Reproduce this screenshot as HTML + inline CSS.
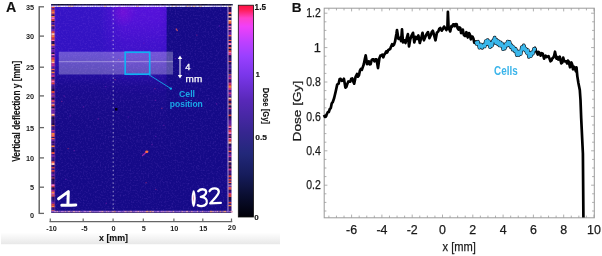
<!DOCTYPE html>
<html><head><meta charset="utf-8"><style>
html,body{margin:0;padding:0;background:#fff;width:602px;height:256px;overflow:hidden}
svg{display:block;will-change:transform}
</style></head><body>
<svg width="602" height="256" viewBox="0 0 602 256">
<defs>
<linearGradient id="cb" x1="0" y1="0" x2="0" y2="1">
 <stop offset="0" stop-color="#ff1040"/>
 <stop offset="0.025" stop-color="#ff2060"/>
 <stop offset="0.06" stop-color="#ff40c8"/>
 <stop offset="0.10" stop-color="#f040f8"/>
 <stop offset="0.17" stop-color="#c040ff"/>
 <stop offset="0.24" stop-color="#9a40ff"/>
 <stop offset="0.33" stop-color="#7a36ea"/>
 <stop offset="0.45" stop-color="#5828b8"/>
 <stop offset="0.60" stop-color="#362690"/>
 <stop offset="0.70" stop-color="#22287a"/>
 <stop offset="0.80" stop-color="#161c5c"/>
 <stop offset="0.90" stop-color="#0a0e30"/>
 <stop offset="1" stop-color="#000008"/>
</linearGradient>
<filter id="grain" x="0" y="0" width="1" height="1" filterUnits="objectBoundingBox">
 <feTurbulence type="fractalNoise" baseFrequency="0.6" numOctaves="2" seed="3" result="n"/>
 <feColorMatrix in="n" type="matrix" values="0 0 0 0 0.45  0 0 0 0 0.2  0 0 0 0 0.95  0 0 0 1.6 -0.75"/>
</filter>
<clipPath id="hclip"><rect x="51.3" y="4.2" width="180" height="208.4"/></clipPath>
<linearGradient id="lay1" x1="0" y1="0" x2="0" y2="1">
 <stop offset="0" stop-color="#3614c6"/>
 <stop offset="0.29" stop-color="#3212c2"/>
 <stop offset="0.48" stop-color="#200c98" stop-opacity="0.55"/>
 <stop offset="0.7" stop-color="#1e0c8c" stop-opacity="0.2"/>
 <stop offset="1" stop-color="#160a86" stop-opacity="0"/>
</linearGradient>
<linearGradient id="lay2h" x1="0" y1="0" x2="1" y2="0">
 <stop offset="0" stop-color="#5a12dc" stop-opacity="0"/>
 <stop offset="0.2" stop-color="#5a12dc" stop-opacity="0.55"/>
 <stop offset="0.35" stop-color="#5a12dc" stop-opacity="0.95"/>
 <stop offset="0.9" stop-color="#5612da" stop-opacity="1"/>
 <stop offset="1" stop-color="#5010d4" stop-opacity="0.95"/>
</linearGradient>
<linearGradient id="m2g" x1="0" y1="0" x2="0" y2="1">
 <stop offset="0" stop-color="#fff" stop-opacity="1"/>
 <stop offset="0.18" stop-color="#fff" stop-opacity="0.85"/>
 <stop offset="0.42" stop-color="#fff" stop-opacity="0.45"/>
 <stop offset="0.75" stop-color="#fff" stop-opacity="0.12"/>
 <stop offset="1" stop-color="#fff" stop-opacity="0"/>
</linearGradient>
<mask id="m2" maskUnits="userSpaceOnUse" x="0" y="0" width="602" height="256"><rect x="100" y="4.2" width="67" height="90.8" fill="url(#m2g)"/></mask>
<radialGradient id="hot" cx="0.5" cy="0.5" r="0.5">
 <stop offset="0" stop-color="#7a10d8" stop-opacity="0.7"/>
 <stop offset="1" stop-color="#7a10d8" stop-opacity="0"/>
</radialGradient>
<linearGradient id="gband" x1="0" y1="0" x2="0" y2="1">
 <stop offset="0" stop-color="#ffffff"/>
 <stop offset="1" stop-color="#e8e8e8"/>
</linearGradient>
</defs>
<rect x="1" y="232.5" width="279" height="11.7" fill="url(#gband)"/>
<rect x="51.3" y="4.2" width="180.0" height="208.4" fill="#150a88"/>
<g clip-path="url(#hclip)">
<rect x="51.3" y="4.2" width="115.2" height="170.8" fill="url(#lay1)"/>
<rect x="100" y="4.2" width="66.5" height="90.8" fill="url(#lay2h)" mask="url(#m2)"/>
<ellipse cx="123" cy="12" rx="13" ry="15" fill="url(#hot)"/>
<rect x="51.3" y="4.2" width="180.0" height="208.4" filter="url(#grain)" opacity="0.24"/>
</g>
<rect x="111.7" y="39.8" width="1.2" height="1.2" fill="#8020b0" opacity="0.6"/>
<rect x="69.5" y="115.4" width="1.2" height="1.2" fill="#6a1cc0" opacity="0.6"/>
<rect x="155.2" y="188.9" width="1.2" height="1.2" fill="#a02890" opacity="0.6"/>
<rect x="63.6" y="95.4" width="1.2" height="1.2" fill="#8020b0" opacity="0.6"/>
<rect x="97.7" y="118.4" width="1.2" height="1.2" fill="#8020b0" opacity="0.6"/>
<rect x="196.2" y="34.5" width="1.2" height="1.2" fill="#a02890" opacity="0.6"/>
<rect x="163.2" y="124.7" width="1.2" height="1.2" fill="#8020b0" opacity="0.6"/>
<rect x="154.3" y="88.1" width="1.2" height="1.2" fill="#a02890" opacity="0.6"/>
<rect x="65.1" y="178.8" width="1.2" height="1.2" fill="#6a1cc0" opacity="0.6"/>
<rect x="127.7" y="116.4" width="1.2" height="1.2" fill="#6a1cc0" opacity="0.6"/>
<rect x="151.4" y="144.1" width="1.2" height="1.2" fill="#8020b0" opacity="0.6"/>
<rect x="155.0" y="135.7" width="1.2" height="1.2" fill="#6a1cc0" opacity="0.6"/>
<rect x="73.7" y="150.1" width="1.2" height="1.2" fill="#8020b0" opacity="0.6"/>
<rect x="161.3" y="107.7" width="1.2" height="1.2" fill="#c03070" opacity="0.6"/>
<rect x="187.9" y="101.6" width="1.2" height="1.2" fill="#c03070" opacity="0.6"/>
<rect x="118.0" y="59.0" width="1.2" height="1.2" fill="#a02890" opacity="0.6"/>
<rect x="174.7" y="58.1" width="1.2" height="1.2" fill="#6a1cc0" opacity="0.6"/>
<rect x="145.5" y="182.1" width="1.2" height="1.2" fill="#c03070" opacity="0.6"/>
<rect x="105.7" y="202.7" width="1.2" height="1.2" fill="#8020b0" opacity="0.6"/>
<rect x="143.3" y="42.6" width="1.2" height="1.2" fill="#6a1cc0" opacity="0.6"/>
<rect x="82.8" y="106.2" width="1.2" height="1.2" fill="#8020b0" opacity="0.6"/>
<rect x="218.9" y="25.4" width="1.2" height="1.2" fill="#6a1cc0" opacity="0.6"/>
<rect x="114.4" y="79.0" width="1.2" height="1.2" fill="#c03070" opacity="0.6"/>
<rect x="154.7" y="99.8" width="1.2" height="1.2" fill="#8020b0" opacity="0.6"/>
<rect x="216.0" y="103.3" width="1.2" height="1.2" fill="#8020b0" opacity="0.6"/>
<rect x="67.5" y="148.0" width="1.2" height="1.2" fill="#c03070" opacity="0.6"/>
<rect x="105.1" y="86.0" width="1.2" height="1.2" fill="#6a1cc0" opacity="0.6"/>
<rect x="61.1" y="100.9" width="1.2" height="1.2" fill="#a02890" opacity="0.6"/>
<path d="M142.5 155.5 L146.5 152" stroke="#c030b0" stroke-width="1.3" opacity="0.8" stroke-linecap="round"/>
<ellipse cx="146.8" cy="151.8" rx="1.6" ry="1.2" fill="#ff7040"/>
<path d="M176 28.5 l1.5 2.5" stroke="#e06060" stroke-width="1.3" opacity="0.8"/>
<rect x="115" y="108" width="2.5" height="2.5" fill="#000010"/>
<rect x="51.30" y="6.70" width="3.30" height="1.69" fill="#e04030"/>
<rect x="51.30" y="8.39" width="3.30" height="1.18" fill="#401070"/>
<rect x="51.30" y="9.58" width="3.30" height="1.86" fill="#e04030"/>
<rect x="51.30" y="11.44" width="3.30" height="2.09" fill="#ff8030"/>
<rect x="51.30" y="13.53" width="3.30" height="1.12" fill="#e04030"/>
<rect x="51.30" y="14.65" width="3.30" height="1.26" fill="#1a0840"/>
<rect x="51.30" y="15.91" width="3.30" height="1.46" fill="#ff8030"/>
<rect x="51.30" y="17.37" width="3.30" height="1.82" fill="#ff70b0"/>
<rect x="51.30" y="19.19" width="3.30" height="1.79" fill="#e04030"/>
<rect x="51.30" y="20.97" width="3.30" height="1.20" fill="#1a0840"/>
<rect x="51.30" y="22.17" width="3.30" height="1.10" fill="#7020a0"/>
<rect x="51.30" y="23.27" width="3.30" height="0.92" fill="#301880"/>
<rect x="51.30" y="24.18" width="3.30" height="1.14" fill="#401070"/>
<rect x="51.30" y="25.32" width="3.30" height="1.09" fill="#ff8030"/>
<rect x="51.30" y="26.41" width="3.30" height="1.69" fill="#401070"/>
<rect x="51.30" y="28.10" width="3.30" height="1.06" fill="#301880"/>
<rect x="51.30" y="29.17" width="3.30" height="2.14" fill="#7020a0"/>
<rect x="51.30" y="31.30" width="3.30" height="1.86" fill="#e04030"/>
<rect x="51.30" y="33.16" width="3.30" height="2.03" fill="#ffc0a0"/>
<rect x="51.30" y="35.20" width="3.30" height="1.78" fill="#ff8030"/>
<rect x="51.30" y="36.98" width="3.30" height="1.42" fill="#e04030"/>
<rect x="51.30" y="38.40" width="3.30" height="1.53" fill="#e04030"/>
<rect x="51.30" y="39.92" width="3.30" height="1.15" fill="#ff70b0"/>
<rect x="51.30" y="41.07" width="3.30" height="1.47" fill="#1a0840"/>
<rect x="51.30" y="42.55" width="3.30" height="1.68" fill="#1a0840"/>
<rect x="51.30" y="44.23" width="3.30" height="1.64" fill="#ff8030"/>
<rect x="51.30" y="45.86" width="3.30" height="2.13" fill="#7020a0"/>
<rect x="51.30" y="48.00" width="3.30" height="0.99" fill="#2a0c60"/>
<rect x="51.30" y="48.99" width="3.30" height="1.39" fill="#7020a0"/>
<rect x="51.30" y="50.38" width="3.30" height="2.14" fill="#7020a0"/>
<rect x="51.30" y="52.52" width="3.30" height="1.52" fill="#1a0840"/>
<rect x="51.30" y="54.04" width="3.30" height="1.53" fill="#ff70b0"/>
<rect x="51.30" y="55.57" width="3.30" height="1.52" fill="#401070"/>
<rect x="51.30" y="57.09" width="3.30" height="1.09" fill="#d03080"/>
<rect x="51.30" y="58.18" width="3.30" height="1.86" fill="#e04030"/>
<rect x="51.30" y="60.04" width="3.30" height="1.80" fill="#ff8030"/>
<rect x="51.30" y="61.84" width="3.30" height="1.17" fill="#ffc0a0"/>
<rect x="51.30" y="63.01" width="3.30" height="1.37" fill="#d03080"/>
<rect x="51.30" y="64.38" width="3.30" height="2.09" fill="#d03080"/>
<rect x="51.30" y="66.47" width="3.30" height="1.29" fill="#7020a0"/>
<rect x="51.30" y="67.76" width="3.30" height="1.02" fill="#301880"/>
<rect x="51.30" y="68.78" width="3.30" height="1.57" fill="#ff6040"/>
<rect x="51.30" y="70.35" width="3.30" height="1.36" fill="#2a0c60"/>
<rect x="51.30" y="71.71" width="3.30" height="1.60" fill="#ff8030"/>
<rect x="51.30" y="73.32" width="3.30" height="1.73" fill="#7020a0"/>
<rect x="51.30" y="75.04" width="3.30" height="1.92" fill="#d03080"/>
<rect x="51.30" y="76.97" width="3.30" height="1.15" fill="#2a0c60"/>
<rect x="51.30" y="78.12" width="3.30" height="1.42" fill="#301880"/>
<rect x="51.30" y="79.54" width="3.30" height="1.16" fill="#e04030"/>
<rect x="51.30" y="80.70" width="3.30" height="1.85" fill="#ff70b0"/>
<rect x="51.30" y="82.55" width="3.30" height="1.93" fill="#e04030"/>
<rect x="51.30" y="84.48" width="3.30" height="1.15" fill="#7020a0"/>
<rect x="51.30" y="85.63" width="3.30" height="1.35" fill="#301880"/>
<rect x="51.30" y="86.98" width="3.30" height="1.84" fill="#401070"/>
<rect x="51.30" y="88.82" width="3.30" height="2.17" fill="#1a0840"/>
<rect x="51.30" y="90.99" width="3.30" height="1.03" fill="#e04030"/>
<rect x="51.30" y="92.02" width="3.30" height="1.34" fill="#e04030"/>
<rect x="51.30" y="93.36" width="3.30" height="2.18" fill="#7020a0"/>
<rect x="51.30" y="95.54" width="3.30" height="0.90" fill="#ff6040"/>
<rect x="51.30" y="96.44" width="3.30" height="1.35" fill="#7020a0"/>
<rect x="51.30" y="97.79" width="3.30" height="1.99" fill="#1a0840"/>
<rect x="51.30" y="99.77" width="3.30" height="1.41" fill="#d03080"/>
<rect x="51.30" y="101.18" width="3.30" height="1.16" fill="#ff6040"/>
<rect x="51.30" y="102.34" width="3.30" height="1.46" fill="#7020a0"/>
<rect x="51.30" y="103.80" width="3.30" height="1.01" fill="#ffc0a0"/>
<rect x="51.30" y="104.81" width="3.30" height="1.84" fill="#e04030"/>
<rect x="51.30" y="106.65" width="3.30" height="1.87" fill="#1a0840"/>
<rect x="51.30" y="108.52" width="3.30" height="1.11" fill="#ff70b0"/>
<rect x="51.30" y="109.63" width="3.30" height="0.94" fill="#7020a0"/>
<rect x="51.30" y="110.56" width="3.30" height="1.50" fill="#7020a0"/>
<rect x="51.30" y="112.07" width="3.30" height="1.70" fill="#7020a0"/>
<rect x="51.30" y="113.76" width="3.30" height="1.52" fill="#ffc0a0"/>
<rect x="51.30" y="115.28" width="3.30" height="1.10" fill="#ff8030"/>
<rect x="51.30" y="116.38" width="3.30" height="0.93" fill="#301880"/>
<rect x="51.30" y="117.31" width="3.30" height="1.84" fill="#1a0840"/>
<rect x="51.30" y="119.15" width="3.30" height="1.87" fill="#2a0c60"/>
<rect x="51.30" y="121.03" width="3.30" height="2.18" fill="#2a0c60"/>
<rect x="51.30" y="123.21" width="3.30" height="2.04" fill="#1a0840"/>
<rect x="51.30" y="125.25" width="3.30" height="1.18" fill="#ff8030"/>
<rect x="51.30" y="126.42" width="3.30" height="1.89" fill="#401070"/>
<rect x="51.30" y="128.32" width="3.30" height="1.61" fill="#301880"/>
<rect x="51.30" y="129.92" width="3.30" height="0.98" fill="#d03080"/>
<rect x="51.30" y="130.90" width="3.30" height="2.07" fill="#7020a0"/>
<rect x="51.30" y="132.97" width="3.30" height="1.96" fill="#ff8030"/>
<rect x="51.30" y="134.93" width="3.30" height="1.98" fill="#ff6040"/>
<rect x="51.30" y="136.90" width="3.30" height="1.07" fill="#2a0c60"/>
<rect x="51.30" y="137.97" width="3.30" height="1.56" fill="#ff6040"/>
<rect x="51.30" y="139.54" width="3.30" height="1.91" fill="#7020a0"/>
<rect x="51.30" y="141.45" width="3.30" height="1.91" fill="#2a0c60"/>
<rect x="51.30" y="143.36" width="3.30" height="1.08" fill="#7020a0"/>
<rect x="51.30" y="144.44" width="3.30" height="1.06" fill="#1a0840"/>
<rect x="51.30" y="145.50" width="3.30" height="1.79" fill="#ff8030"/>
<rect x="51.30" y="147.28" width="3.30" height="1.53" fill="#301880"/>
<rect x="51.30" y="148.81" width="3.30" height="2.05" fill="#1a0840"/>
<rect x="51.30" y="150.86" width="3.30" height="1.15" fill="#1a0840"/>
<rect x="51.30" y="152.01" width="3.30" height="1.03" fill="#e04030"/>
<rect x="51.30" y="153.04" width="3.30" height="0.94" fill="#ff6040"/>
<rect x="51.30" y="153.97" width="3.30" height="0.98" fill="#401070"/>
<rect x="51.30" y="154.95" width="3.30" height="2.17" fill="#7020a0"/>
<rect x="51.30" y="157.12" width="3.30" height="1.16" fill="#401070"/>
<rect x="51.30" y="158.28" width="3.30" height="1.56" fill="#301880"/>
<rect x="51.30" y="159.84" width="3.30" height="1.56" fill="#2a0c60"/>
<rect x="51.30" y="161.40" width="3.30" height="1.58" fill="#ff6040"/>
<rect x="51.30" y="162.98" width="3.30" height="2.11" fill="#ffc0a0"/>
<rect x="51.30" y="165.09" width="3.30" height="2.06" fill="#2a0c60"/>
<rect x="51.30" y="167.15" width="3.30" height="1.48" fill="#e04030"/>
<rect x="51.30" y="168.63" width="3.30" height="1.41" fill="#401070"/>
<rect x="51.30" y="170.04" width="3.30" height="1.77" fill="#e04030"/>
<rect x="51.30" y="171.81" width="3.30" height="1.18" fill="#401070"/>
<rect x="51.30" y="172.99" width="3.30" height="1.06" fill="#301880"/>
<rect x="51.30" y="174.05" width="3.30" height="2.12" fill="#7020a0"/>
<rect x="51.30" y="176.17" width="3.30" height="1.38" fill="#2a0c60"/>
<rect x="51.30" y="177.54" width="3.30" height="1.08" fill="#e04030"/>
<rect x="51.30" y="178.62" width="3.30" height="1.87" fill="#1a0840"/>
<rect x="51.30" y="180.49" width="3.30" height="2.05" fill="#2a0c60"/>
<rect x="51.30" y="182.54" width="3.30" height="1.77" fill="#2a0c60"/>
<rect x="51.30" y="184.31" width="3.30" height="1.82" fill="#ff70b0"/>
<rect x="51.30" y="186.13" width="3.30" height="1.42" fill="#e04030"/>
<rect x="51.30" y="187.55" width="3.30" height="1.36" fill="#1a0840"/>
<rect x="51.30" y="188.92" width="3.30" height="1.38" fill="#401070"/>
<rect x="51.30" y="190.29" width="3.30" height="1.50" fill="#d03080"/>
<rect x="51.30" y="191.79" width="3.30" height="1.40" fill="#ff8030"/>
<rect x="51.30" y="193.19" width="3.30" height="1.28" fill="#ff70b0"/>
<rect x="51.30" y="194.47" width="3.30" height="1.05" fill="#ff6040"/>
<rect x="51.30" y="195.52" width="3.30" height="1.20" fill="#ff6040"/>
<rect x="51.30" y="196.72" width="3.30" height="1.01" fill="#2a0c60"/>
<rect x="51.30" y="197.73" width="3.30" height="2.08" fill="#2a0c60"/>
<rect x="51.30" y="199.80" width="3.30" height="1.88" fill="#301880"/>
<rect x="51.30" y="201.69" width="3.30" height="2.00" fill="#7020a0"/>
<rect x="51.30" y="203.69" width="3.30" height="2.13" fill="#e04030"/>
<rect x="51.30" y="205.82" width="3.30" height="1.60" fill="#ff8030"/>
<rect x="51.30" y="207.42" width="3.30" height="1.54" fill="#401070"/>
<rect x="51.30" y="208.96" width="3.30" height="1.26" fill="#301880"/>
<rect x="51.30" y="210.22" width="3.30" height="1.14" fill="#ff6040"/>
<rect x="228.40" y="6.70" width="2.90" height="1.25" fill="#1a0840"/>
<rect x="228.40" y="7.95" width="2.90" height="1.02" fill="#2a0c60"/>
<rect x="228.40" y="8.96" width="2.90" height="1.69" fill="#2a0c60"/>
<rect x="228.40" y="10.66" width="2.90" height="1.24" fill="#1a0840"/>
<rect x="228.40" y="11.90" width="2.90" height="0.92" fill="#ff70b0"/>
<rect x="228.40" y="12.81" width="2.90" height="1.44" fill="#ff6040"/>
<rect x="228.40" y="14.26" width="2.90" height="1.71" fill="#1a0840"/>
<rect x="228.40" y="15.97" width="2.90" height="1.82" fill="#ffc0a0"/>
<rect x="228.40" y="17.79" width="2.90" height="2.16" fill="#2a0c60"/>
<rect x="228.40" y="19.95" width="2.90" height="1.14" fill="#ffc0a0"/>
<rect x="228.40" y="21.08" width="2.90" height="1.72" fill="#ff8030"/>
<rect x="228.40" y="22.80" width="2.90" height="1.17" fill="#e04030"/>
<rect x="228.40" y="23.97" width="2.90" height="1.77" fill="#2a0c60"/>
<rect x="228.40" y="25.74" width="2.90" height="1.94" fill="#ff70b0"/>
<rect x="228.40" y="27.69" width="2.90" height="0.95" fill="#1a0840"/>
<rect x="228.40" y="28.63" width="2.90" height="1.56" fill="#ff70b0"/>
<rect x="228.40" y="30.19" width="2.90" height="1.57" fill="#2a0c60"/>
<rect x="228.40" y="31.76" width="2.90" height="1.48" fill="#7020a0"/>
<rect x="228.40" y="33.24" width="2.90" height="1.75" fill="#7020a0"/>
<rect x="228.40" y="34.99" width="2.90" height="1.61" fill="#ff6040"/>
<rect x="228.40" y="36.60" width="2.90" height="2.16" fill="#401070"/>
<rect x="228.40" y="38.76" width="2.90" height="1.18" fill="#2a0c60"/>
<rect x="228.40" y="39.94" width="2.90" height="1.16" fill="#ff6040"/>
<rect x="228.40" y="41.10" width="2.90" height="1.85" fill="#2a0c60"/>
<rect x="228.40" y="42.94" width="2.90" height="2.19" fill="#ff70b0"/>
<rect x="228.40" y="45.13" width="2.90" height="1.99" fill="#1a0840"/>
<rect x="228.40" y="47.12" width="2.90" height="1.71" fill="#ff6040"/>
<rect x="228.40" y="48.83" width="2.90" height="1.46" fill="#1a0840"/>
<rect x="228.40" y="50.29" width="2.90" height="1.76" fill="#e04030"/>
<rect x="228.40" y="52.06" width="2.90" height="1.56" fill="#ff70b0"/>
<rect x="228.40" y="53.61" width="2.90" height="1.68" fill="#d03080"/>
<rect x="228.40" y="55.29" width="2.90" height="0.96" fill="#2a0c60"/>
<rect x="228.40" y="56.25" width="2.90" height="1.25" fill="#1a0840"/>
<rect x="228.40" y="57.50" width="2.90" height="1.37" fill="#401070"/>
<rect x="228.40" y="58.87" width="2.90" height="2.18" fill="#401070"/>
<rect x="228.40" y="61.05" width="2.90" height="0.94" fill="#ff6040"/>
<rect x="228.40" y="62.00" width="2.90" height="1.18" fill="#2a0c60"/>
<rect x="228.40" y="63.18" width="2.90" height="1.34" fill="#1a0840"/>
<rect x="228.40" y="64.52" width="2.90" height="1.26" fill="#7020a0"/>
<rect x="228.40" y="65.78" width="2.90" height="1.22" fill="#301880"/>
<rect x="228.40" y="67.00" width="2.90" height="1.02" fill="#301880"/>
<rect x="228.40" y="68.02" width="2.90" height="1.09" fill="#7020a0"/>
<rect x="228.40" y="69.11" width="2.90" height="1.41" fill="#401070"/>
<rect x="228.40" y="70.52" width="2.90" height="1.72" fill="#1a0840"/>
<rect x="228.40" y="72.24" width="2.90" height="2.14" fill="#301880"/>
<rect x="228.40" y="74.38" width="2.90" height="1.10" fill="#ff6040"/>
<rect x="228.40" y="75.49" width="2.90" height="1.92" fill="#7020a0"/>
<rect x="228.40" y="77.41" width="2.90" height="1.89" fill="#d03080"/>
<rect x="228.40" y="79.30" width="2.90" height="1.54" fill="#401070"/>
<rect x="228.40" y="80.84" width="2.90" height="1.70" fill="#2a0c60"/>
<rect x="228.40" y="82.55" width="2.90" height="1.97" fill="#d03080"/>
<rect x="228.40" y="84.52" width="2.90" height="1.57" fill="#e04030"/>
<rect x="228.40" y="86.08" width="2.90" height="1.81" fill="#ff8030"/>
<rect x="228.40" y="87.90" width="2.90" height="2.08" fill="#d03080"/>
<rect x="228.40" y="89.98" width="2.90" height="1.64" fill="#301880"/>
<rect x="228.40" y="91.62" width="2.90" height="0.92" fill="#7020a0"/>
<rect x="228.40" y="92.54" width="2.90" height="1.94" fill="#d03080"/>
<rect x="228.40" y="94.48" width="2.90" height="2.14" fill="#7020a0"/>
<rect x="228.40" y="96.62" width="2.90" height="1.01" fill="#1a0840"/>
<rect x="228.40" y="97.63" width="2.90" height="1.73" fill="#ffc0a0"/>
<rect x="228.40" y="99.36" width="2.90" height="1.39" fill="#e04030"/>
<rect x="228.40" y="100.75" width="2.90" height="0.97" fill="#1a0840"/>
<rect x="228.40" y="101.71" width="2.90" height="1.59" fill="#2a0c60"/>
<rect x="228.40" y="103.30" width="2.90" height="1.24" fill="#e04030"/>
<rect x="228.40" y="104.55" width="2.90" height="0.99" fill="#ffc0a0"/>
<rect x="228.40" y="105.54" width="2.90" height="2.07" fill="#1a0840"/>
<rect x="228.40" y="107.61" width="2.90" height="1.58" fill="#d03080"/>
<rect x="228.40" y="109.19" width="2.90" height="1.52" fill="#301880"/>
<rect x="228.40" y="110.71" width="2.90" height="2.00" fill="#2a0c60"/>
<rect x="228.40" y="112.71" width="2.90" height="1.88" fill="#2a0c60"/>
<rect x="228.40" y="114.59" width="2.90" height="1.74" fill="#e04030"/>
<rect x="228.40" y="116.33" width="2.90" height="2.00" fill="#1a0840"/>
<rect x="228.40" y="118.33" width="2.90" height="2.08" fill="#401070"/>
<rect x="228.40" y="120.42" width="2.90" height="0.96" fill="#7020a0"/>
<rect x="228.40" y="121.38" width="2.90" height="1.16" fill="#7020a0"/>
<rect x="228.40" y="122.54" width="2.90" height="1.33" fill="#7020a0"/>
<rect x="228.40" y="123.87" width="2.90" height="1.80" fill="#7020a0"/>
<rect x="228.40" y="125.67" width="2.90" height="1.07" fill="#e04030"/>
<rect x="228.40" y="126.74" width="2.90" height="1.53" fill="#ff70b0"/>
<rect x="228.40" y="128.27" width="2.90" height="1.03" fill="#2a0c60"/>
<rect x="228.40" y="129.30" width="2.90" height="1.54" fill="#d03080"/>
<rect x="228.40" y="130.84" width="2.90" height="1.27" fill="#e04030"/>
<rect x="228.40" y="132.11" width="2.90" height="1.90" fill="#ff70b0"/>
<rect x="228.40" y="134.01" width="2.90" height="1.61" fill="#401070"/>
<rect x="228.40" y="135.62" width="2.90" height="1.01" fill="#e04030"/>
<rect x="228.40" y="136.63" width="2.90" height="1.28" fill="#1a0840"/>
<rect x="228.40" y="137.91" width="2.90" height="1.56" fill="#ff70b0"/>
<rect x="228.40" y="139.47" width="2.90" height="2.19" fill="#e04030"/>
<rect x="228.40" y="141.66" width="2.90" height="2.09" fill="#ffc0a0"/>
<rect x="228.40" y="143.75" width="2.90" height="1.00" fill="#1a0840"/>
<rect x="228.40" y="144.75" width="2.90" height="1.87" fill="#2a0c60"/>
<rect x="228.40" y="146.62" width="2.90" height="1.37" fill="#7020a0"/>
<rect x="228.40" y="147.99" width="2.90" height="1.72" fill="#401070"/>
<rect x="228.40" y="149.71" width="2.90" height="1.05" fill="#401070"/>
<rect x="228.40" y="150.75" width="2.90" height="1.55" fill="#ff6040"/>
<rect x="228.40" y="152.30" width="2.90" height="1.41" fill="#2a0c60"/>
<rect x="228.40" y="153.71" width="2.90" height="2.13" fill="#7020a0"/>
<rect x="228.40" y="155.85" width="2.90" height="1.43" fill="#d03080"/>
<rect x="228.40" y="157.28" width="2.90" height="1.44" fill="#401070"/>
<rect x="228.40" y="158.72" width="2.90" height="1.06" fill="#401070"/>
<rect x="228.40" y="159.77" width="2.90" height="1.32" fill="#401070"/>
<rect x="228.40" y="161.10" width="2.90" height="1.42" fill="#ffc0a0"/>
<rect x="228.40" y="162.51" width="2.90" height="1.15" fill="#1a0840"/>
<rect x="228.40" y="163.67" width="2.90" height="1.86" fill="#2a0c60"/>
<rect x="228.40" y="165.53" width="2.90" height="0.98" fill="#e04030"/>
<rect x="228.40" y="166.51" width="2.90" height="2.03" fill="#1a0840"/>
<rect x="228.40" y="168.55" width="2.90" height="2.10" fill="#d03080"/>
<rect x="228.40" y="170.65" width="2.90" height="2.01" fill="#401070"/>
<rect x="228.40" y="172.66" width="2.90" height="0.97" fill="#7020a0"/>
<rect x="228.40" y="173.63" width="2.90" height="1.73" fill="#2a0c60"/>
<rect x="228.40" y="175.35" width="2.90" height="2.16" fill="#e04030"/>
<rect x="228.40" y="177.51" width="2.90" height="1.31" fill="#301880"/>
<rect x="228.40" y="178.82" width="2.90" height="1.92" fill="#e04030"/>
<rect x="228.40" y="180.75" width="2.90" height="0.94" fill="#301880"/>
<rect x="228.40" y="181.68" width="2.90" height="1.42" fill="#ff6040"/>
<rect x="228.40" y="183.10" width="2.90" height="1.62" fill="#2a0c60"/>
<rect x="228.40" y="184.72" width="2.90" height="1.00" fill="#ffc0a0"/>
<rect x="228.40" y="185.73" width="2.90" height="1.43" fill="#7020a0"/>
<rect x="228.40" y="187.16" width="2.90" height="1.08" fill="#ff6040"/>
<rect x="228.40" y="188.24" width="2.90" height="1.53" fill="#ff6040"/>
<rect x="228.40" y="189.77" width="2.90" height="1.62" fill="#2a0c60"/>
<rect x="228.40" y="191.39" width="2.90" height="1.44" fill="#401070"/>
<rect x="228.40" y="192.83" width="2.90" height="1.23" fill="#d03080"/>
<rect x="228.40" y="194.06" width="2.90" height="1.75" fill="#e04030"/>
<rect x="228.40" y="195.81" width="2.90" height="1.21" fill="#e04030"/>
<rect x="228.40" y="197.02" width="2.90" height="1.77" fill="#1a0840"/>
<rect x="228.40" y="198.79" width="2.90" height="1.74" fill="#1a0840"/>
<rect x="228.40" y="200.53" width="2.90" height="1.55" fill="#301880"/>
<rect x="228.40" y="202.08" width="2.90" height="1.62" fill="#e04030"/>
<rect x="228.40" y="203.69" width="2.90" height="1.33" fill="#301880"/>
<rect x="228.40" y="205.02" width="2.90" height="1.46" fill="#ff8030"/>
<rect x="228.40" y="206.48" width="2.90" height="1.22" fill="#2a0c60"/>
<rect x="228.40" y="207.70" width="2.90" height="1.62" fill="#401070"/>
<rect x="228.40" y="209.32" width="2.90" height="1.38" fill="#301880"/>
<rect x="228.40" y="210.70" width="2.90" height="1.16" fill="#1a0840"/>
<line x1="51.699999999999996" y1="6.2" x2="51.699999999999996" y2="212.6" stroke="#c0a0f0" stroke-width="0.7" opacity="0.6"/>
<line x1="54.8" y1="6.2" x2="54.8" y2="212.6" stroke="#c060c0" stroke-width="0.6" opacity="0.5"/>
<line x1="228.0" y1="6.2" x2="228.0" y2="212.6" stroke="#f8d8f8" stroke-width="0.9" opacity="0.75"/>
<rect x="51.30" y="4.00" width="2.74" height="1.60" fill="#1a1a40"/>
<rect x="54.04" y="4.00" width="1.83" height="1.60" fill="#181838"/>
<rect x="55.87" y="4.00" width="1.42" height="1.60" fill="#1a1a40"/>
<rect x="57.29" y="4.00" width="1.68" height="1.60" fill="#101030"/>
<rect x="58.97" y="4.00" width="2.00" height="1.60" fill="#181838"/>
<rect x="60.96" y="4.00" width="2.94" height="1.60" fill="#101030"/>
<rect x="63.90" y="4.00" width="2.37" height="1.60" fill="#181838"/>
<rect x="66.27" y="4.00" width="2.26" height="1.60" fill="#101030"/>
<rect x="68.53" y="4.00" width="1.19" height="1.60" fill="#101030"/>
<rect x="69.72" y="4.00" width="1.77" height="1.60" fill="#181838"/>
<rect x="71.48" y="4.00" width="1.89" height="1.60" fill="#1a1a40"/>
<rect x="73.38" y="4.00" width="2.70" height="1.60" fill="#101030"/>
<rect x="76.07" y="4.00" width="1.25" height="1.60" fill="#1a1a40"/>
<rect x="77.33" y="4.00" width="2.42" height="1.60" fill="#1a1a40"/>
<rect x="79.75" y="4.00" width="2.94" height="1.60" fill="#1a1a40"/>
<rect x="82.68" y="4.00" width="1.00" height="1.60" fill="#1a1a40"/>
<rect x="83.68" y="4.00" width="2.86" height="1.60" fill="#181838"/>
<rect x="86.54" y="4.00" width="2.71" height="1.60" fill="#1a1a40"/>
<rect x="89.26" y="4.00" width="1.50" height="1.60" fill="#101030"/>
<rect x="90.75" y="4.00" width="1.45" height="1.60" fill="#101030"/>
<rect x="92.20" y="4.00" width="2.04" height="1.60" fill="#181838"/>
<rect x="94.24" y="4.00" width="1.22" height="1.60" fill="#181838"/>
<rect x="95.46" y="4.00" width="2.40" height="1.60" fill="#1a1a40"/>
<rect x="97.86" y="4.00" width="1.17" height="1.60" fill="#101030"/>
<rect x="99.03" y="4.00" width="1.00" height="1.60" fill="#101030"/>
<rect x="100.04" y="4.00" width="1.47" height="1.60" fill="#101030"/>
<rect x="101.50" y="4.00" width="2.29" height="1.60" fill="#1a1a40"/>
<rect x="103.79" y="4.00" width="2.92" height="1.60" fill="#181838"/>
<rect x="106.72" y="4.00" width="1.50" height="1.60" fill="#181838"/>
<rect x="108.22" y="4.00" width="1.87" height="1.60" fill="#101030"/>
<rect x="110.10" y="4.00" width="1.20" height="1.60" fill="#1a1a40"/>
<rect x="111.30" y="4.00" width="2.05" height="1.60" fill="#181838"/>
<rect x="113.34" y="4.00" width="1.38" height="1.60" fill="#1a1a40"/>
<rect x="114.73" y="4.00" width="1.45" height="1.60" fill="#181838"/>
<rect x="116.17" y="4.00" width="1.00" height="1.60" fill="#181838"/>
<rect x="117.18" y="4.00" width="1.60" height="1.60" fill="#1a1a40"/>
<rect x="118.78" y="4.00" width="1.56" height="1.60" fill="#1a1a40"/>
<rect x="120.34" y="4.00" width="2.29" height="1.60" fill="#101030"/>
<rect x="122.63" y="4.00" width="1.95" height="1.60" fill="#101030"/>
<rect x="124.58" y="4.00" width="2.09" height="1.60" fill="#101030"/>
<rect x="126.67" y="4.00" width="2.92" height="1.60" fill="#181838"/>
<rect x="129.59" y="4.00" width="2.30" height="1.60" fill="#101030"/>
<rect x="131.89" y="4.00" width="1.04" height="1.60" fill="#1a1a40"/>
<rect x="132.94" y="4.00" width="2.77" height="1.60" fill="#181838"/>
<rect x="135.70" y="4.00" width="1.84" height="1.60" fill="#1a1a40"/>
<rect x="137.54" y="4.00" width="1.46" height="1.60" fill="#1a1a40"/>
<rect x="139.00" y="4.00" width="2.85" height="1.60" fill="#101030"/>
<rect x="141.85" y="4.00" width="1.99" height="1.60" fill="#181838"/>
<rect x="143.84" y="4.00" width="1.68" height="1.60" fill="#1a1a40"/>
<rect x="145.51" y="4.00" width="1.72" height="1.60" fill="#1a1a40"/>
<rect x="147.24" y="4.00" width="1.40" height="1.60" fill="#1a1a40"/>
<rect x="148.63" y="4.00" width="2.48" height="1.60" fill="#181838"/>
<rect x="151.11" y="4.00" width="1.13" height="1.60" fill="#1a1a40"/>
<rect x="152.25" y="4.00" width="2.94" height="1.60" fill="#1a1a40"/>
<rect x="155.19" y="4.00" width="2.53" height="1.60" fill="#101030"/>
<rect x="157.72" y="4.00" width="1.46" height="1.60" fill="#101030"/>
<rect x="159.18" y="4.00" width="1.53" height="1.60" fill="#1a1a40"/>
<rect x="160.71" y="4.00" width="1.22" height="1.60" fill="#181838"/>
<rect x="161.93" y="4.00" width="1.99" height="1.60" fill="#101030"/>
<rect x="163.92" y="4.00" width="2.79" height="1.60" fill="#1a1a40"/>
<rect x="166.71" y="4.00" width="1.83" height="1.60" fill="#181838"/>
<rect x="168.55" y="4.00" width="1.11" height="1.60" fill="#181838"/>
<rect x="169.66" y="4.00" width="1.29" height="1.60" fill="#1a1a40"/>
<rect x="170.95" y="4.00" width="1.11" height="1.60" fill="#101030"/>
<rect x="172.06" y="4.00" width="2.95" height="1.60" fill="#101030"/>
<rect x="175.01" y="4.00" width="1.83" height="1.60" fill="#181838"/>
<rect x="176.84" y="4.00" width="1.12" height="1.60" fill="#1a1a40"/>
<rect x="177.96" y="4.00" width="1.90" height="1.60" fill="#181838"/>
<rect x="179.86" y="4.00" width="2.77" height="1.60" fill="#181838"/>
<rect x="182.63" y="4.00" width="1.23" height="1.60" fill="#101030"/>
<rect x="183.85" y="4.00" width="2.86" height="1.60" fill="#1a1a40"/>
<rect x="186.72" y="4.00" width="1.38" height="1.60" fill="#181838"/>
<rect x="188.10" y="4.00" width="2.87" height="1.60" fill="#181838"/>
<rect x="190.97" y="4.00" width="1.94" height="1.60" fill="#1a1a40"/>
<rect x="192.90" y="4.00" width="2.33" height="1.60" fill="#1a1a40"/>
<rect x="195.23" y="4.00" width="2.68" height="1.60" fill="#1a1a40"/>
<rect x="197.91" y="4.00" width="1.88" height="1.60" fill="#101030"/>
<rect x="199.80" y="4.00" width="1.01" height="1.60" fill="#1a1a40"/>
<rect x="200.80" y="4.00" width="1.16" height="1.60" fill="#1a1a40"/>
<rect x="201.96" y="4.00" width="2.91" height="1.60" fill="#101030"/>
<rect x="204.87" y="4.00" width="2.12" height="1.60" fill="#101030"/>
<rect x="207.00" y="4.00" width="1.76" height="1.60" fill="#1a1a40"/>
<rect x="208.76" y="4.00" width="2.64" height="1.60" fill="#1a1a40"/>
<rect x="211.40" y="4.00" width="1.18" height="1.60" fill="#181838"/>
<rect x="212.58" y="4.00" width="1.95" height="1.60" fill="#1a1a40"/>
<rect x="214.52" y="4.00" width="2.08" height="1.60" fill="#1a1a40"/>
<rect x="216.61" y="4.00" width="1.39" height="1.60" fill="#1a1a40"/>
<rect x="217.99" y="4.00" width="2.47" height="1.60" fill="#1a1a40"/>
<rect x="220.47" y="4.00" width="1.06" height="1.60" fill="#1a1a40"/>
<rect x="221.53" y="4.00" width="1.50" height="1.60" fill="#181838"/>
<rect x="223.02" y="4.00" width="2.53" height="1.60" fill="#101030"/>
<rect x="225.56" y="4.00" width="1.75" height="1.60" fill="#1a1a40"/>
<rect x="227.31" y="4.00" width="1.13" height="1.60" fill="#101030"/>
<rect x="228.43" y="4.00" width="1.51" height="1.60" fill="#181838"/>
<rect x="229.95" y="4.00" width="1.13" height="1.60" fill="#181838"/>
<rect x="231.07" y="4.00" width="1.68" height="1.60" fill="#1a1a40"/>
<rect x="51.30" y="5.60" width="1.67" height="1.30" fill="#e8e0ff"/>
<rect x="52.97" y="5.60" width="1.09" height="1.30" fill="#ffe0b0"/>
<rect x="54.06" y="5.60" width="2.38" height="1.30" fill="#e8e0ff"/>
<rect x="56.44" y="5.60" width="1.59" height="1.30" fill="#f0e8ff"/>
<rect x="58.03" y="5.60" width="2.19" height="1.30" fill="#ffe0b0"/>
<rect x="60.22" y="5.60" width="2.89" height="1.30" fill="#ffffff"/>
<rect x="63.12" y="5.60" width="2.65" height="1.30" fill="#ffffff"/>
<rect x="65.77" y="5.60" width="2.43" height="1.30" fill="#f0e8ff"/>
<rect x="68.20" y="5.60" width="2.55" height="1.30" fill="#ffe0b0"/>
<rect x="70.75" y="5.60" width="2.83" height="1.30" fill="#ffe0b0"/>
<rect x="73.58" y="5.60" width="1.27" height="1.30" fill="#f0e8ff"/>
<rect x="74.84" y="5.60" width="1.02" height="1.30" fill="#e8e0ff"/>
<rect x="75.86" y="5.60" width="1.61" height="1.30" fill="#f0e8ff"/>
<rect x="77.47" y="5.60" width="1.30" height="1.30" fill="#ffffff"/>
<rect x="78.77" y="5.60" width="2.72" height="1.30" fill="#f0e8ff"/>
<rect x="81.49" y="5.60" width="2.57" height="1.30" fill="#f0e8ff"/>
<rect x="84.06" y="5.60" width="2.02" height="1.30" fill="#ffffff"/>
<rect x="86.08" y="5.60" width="1.32" height="1.30" fill="#ffffff"/>
<rect x="87.40" y="5.60" width="2.30" height="1.30" fill="#f0e8ff"/>
<rect x="89.70" y="5.60" width="2.09" height="1.30" fill="#ffffff"/>
<rect x="91.79" y="5.60" width="1.85" height="1.30" fill="#ffffff"/>
<rect x="93.65" y="5.60" width="1.14" height="1.30" fill="#f0e8ff"/>
<rect x="94.79" y="5.60" width="1.42" height="1.30" fill="#ffffff"/>
<rect x="96.21" y="5.60" width="2.98" height="1.30" fill="#e8e0ff"/>
<rect x="99.18" y="5.60" width="1.35" height="1.30" fill="#ffffff"/>
<rect x="100.53" y="5.60" width="1.92" height="1.30" fill="#e8e0ff"/>
<rect x="102.45" y="5.60" width="1.47" height="1.30" fill="#f0e8ff"/>
<rect x="103.92" y="5.60" width="2.55" height="1.30" fill="#ffe0b0"/>
<rect x="106.47" y="5.60" width="2.56" height="1.30" fill="#ffffff"/>
<rect x="109.03" y="5.60" width="1.56" height="1.30" fill="#ffffff"/>
<rect x="110.59" y="5.60" width="1.51" height="1.30" fill="#ffffff"/>
<rect x="112.10" y="5.60" width="1.88" height="1.30" fill="#ffffff"/>
<rect x="113.97" y="5.60" width="1.47" height="1.30" fill="#ffffff"/>
<rect x="115.45" y="5.60" width="2.82" height="1.30" fill="#ffffff"/>
<rect x="118.26" y="5.60" width="1.13" height="1.30" fill="#ffffff"/>
<rect x="119.39" y="5.60" width="1.49" height="1.30" fill="#f0e8ff"/>
<rect x="120.88" y="5.60" width="2.30" height="1.30" fill="#ffffff"/>
<rect x="123.18" y="5.60" width="1.93" height="1.30" fill="#ffffff"/>
<rect x="125.11" y="5.60" width="1.01" height="1.30" fill="#e8e0ff"/>
<rect x="126.12" y="5.60" width="1.46" height="1.30" fill="#ffffff"/>
<rect x="127.58" y="5.60" width="1.75" height="1.30" fill="#e8e0ff"/>
<rect x="129.33" y="5.60" width="1.47" height="1.30" fill="#ffffff"/>
<rect x="130.79" y="5.60" width="2.20" height="1.30" fill="#e8e0ff"/>
<rect x="132.99" y="5.60" width="1.39" height="1.30" fill="#ffffff"/>
<rect x="134.38" y="5.60" width="2.03" height="1.30" fill="#ffffff"/>
<rect x="136.41" y="5.60" width="2.21" height="1.30" fill="#ffe0b0"/>
<rect x="138.61" y="5.60" width="2.33" height="1.30" fill="#ffffff"/>
<rect x="140.94" y="5.60" width="2.27" height="1.30" fill="#f0e8ff"/>
<rect x="143.22" y="5.60" width="1.70" height="1.30" fill="#ffffff"/>
<rect x="144.92" y="5.60" width="1.68" height="1.30" fill="#ffffff"/>
<rect x="146.60" y="5.60" width="3.00" height="1.30" fill="#ffffff"/>
<rect x="149.60" y="5.60" width="2.46" height="1.30" fill="#e8e0ff"/>
<rect x="152.06" y="5.60" width="2.63" height="1.30" fill="#e8e0ff"/>
<rect x="154.69" y="5.60" width="1.82" height="1.30" fill="#ffffff"/>
<rect x="156.51" y="5.60" width="2.24" height="1.30" fill="#ffffff"/>
<rect x="158.75" y="5.60" width="1.06" height="1.30" fill="#f0e8ff"/>
<rect x="159.82" y="5.60" width="1.97" height="1.30" fill="#ffffff"/>
<rect x="161.78" y="5.60" width="2.59" height="1.30" fill="#f0e8ff"/>
<rect x="164.37" y="5.60" width="1.31" height="1.30" fill="#f0e8ff"/>
<rect x="165.68" y="5.60" width="2.31" height="1.30" fill="#ffffff"/>
<rect x="167.99" y="5.60" width="1.54" height="1.30" fill="#e8e0ff"/>
<rect x="169.53" y="5.60" width="2.34" height="1.30" fill="#ffffff"/>
<rect x="171.87" y="5.60" width="1.10" height="1.30" fill="#ffe0b0"/>
<rect x="172.97" y="5.60" width="2.77" height="1.30" fill="#ffffff"/>
<rect x="175.74" y="5.60" width="1.04" height="1.30" fill="#ffe0b0"/>
<rect x="176.77" y="5.60" width="2.60" height="1.30" fill="#f0e8ff"/>
<rect x="179.38" y="5.60" width="1.78" height="1.30" fill="#ffffff"/>
<rect x="181.16" y="5.60" width="2.88" height="1.30" fill="#ffffff"/>
<rect x="184.04" y="5.60" width="1.31" height="1.30" fill="#ffffff"/>
<rect x="185.36" y="5.60" width="1.18" height="1.30" fill="#f0e8ff"/>
<rect x="186.54" y="5.60" width="1.73" height="1.30" fill="#ffe0b0"/>
<rect x="188.27" y="5.60" width="1.26" height="1.30" fill="#ffffff"/>
<rect x="189.53" y="5.60" width="1.28" height="1.30" fill="#ffe0b0"/>
<rect x="190.81" y="5.60" width="1.79" height="1.30" fill="#f0e8ff"/>
<rect x="192.61" y="5.60" width="2.85" height="1.30" fill="#ffe0b0"/>
<rect x="195.46" y="5.60" width="1.34" height="1.30" fill="#ffffff"/>
<rect x="196.80" y="5.60" width="1.32" height="1.30" fill="#ffffff"/>
<rect x="198.13" y="5.60" width="1.13" height="1.30" fill="#ffffff"/>
<rect x="199.26" y="5.60" width="2.51" height="1.30" fill="#ffe0b0"/>
<rect x="201.77" y="5.60" width="2.61" height="1.30" fill="#ffffff"/>
<rect x="204.38" y="5.60" width="2.67" height="1.30" fill="#ffffff"/>
<rect x="207.05" y="5.60" width="2.83" height="1.30" fill="#ffffff"/>
<rect x="209.88" y="5.60" width="2.22" height="1.30" fill="#f0e8ff"/>
<rect x="212.09" y="5.60" width="1.17" height="1.30" fill="#f0e8ff"/>
<rect x="213.27" y="5.60" width="2.38" height="1.30" fill="#e8e0ff"/>
<rect x="215.64" y="5.60" width="2.28" height="1.30" fill="#e8e0ff"/>
<rect x="217.92" y="5.60" width="2.24" height="1.30" fill="#f0e8ff"/>
<rect x="220.16" y="5.60" width="1.39" height="1.30" fill="#f0e8ff"/>
<rect x="221.56" y="5.60" width="2.13" height="1.30" fill="#ffffff"/>
<rect x="223.69" y="5.60" width="2.88" height="1.30" fill="#ffffff"/>
<rect x="226.57" y="5.60" width="1.72" height="1.30" fill="#ffffff"/>
<rect x="228.28" y="5.60" width="2.94" height="1.30" fill="#ffe0b0"/>
<rect x="231.22" y="5.60" width="1.39" height="1.30" fill="#e8e0ff"/>
<rect x="51.30" y="210.80" width="2.68" height="1.80" fill="#9060d0"/>
<rect x="53.98" y="210.80" width="2.34" height="1.80" fill="#c080e0"/>
<rect x="56.32" y="210.80" width="1.78" height="1.80" fill="#d090c0"/>
<rect x="58.10" y="210.80" width="2.70" height="1.80" fill="#9060d0"/>
<rect x="60.80" y="210.80" width="2.30" height="1.80" fill="#c080e0"/>
<rect x="63.10" y="210.80" width="1.50" height="1.80" fill="#c080e0"/>
<rect x="64.60" y="210.80" width="1.73" height="1.80" fill="#d090c0"/>
<rect x="66.33" y="210.80" width="1.36" height="1.80" fill="#a070e0"/>
<rect x="67.69" y="210.80" width="2.97" height="1.80" fill="#d090c0"/>
<rect x="70.66" y="210.80" width="1.89" height="1.80" fill="#9060d0"/>
<rect x="72.55" y="210.80" width="2.64" height="1.80" fill="#e0a0c0"/>
<rect x="75.19" y="210.80" width="2.62" height="1.80" fill="#c080e0"/>
<rect x="77.81" y="210.80" width="1.13" height="1.80" fill="#c080e0"/>
<rect x="78.95" y="210.80" width="1.73" height="1.80" fill="#e0a0c0"/>
<rect x="80.68" y="210.80" width="2.01" height="1.80" fill="#9060d0"/>
<rect x="82.69" y="210.80" width="1.08" height="1.80" fill="#a070e0"/>
<rect x="83.77" y="210.80" width="2.84" height="1.80" fill="#c080e0"/>
<rect x="86.61" y="210.80" width="2.44" height="1.80" fill="#a070e0"/>
<rect x="89.05" y="210.80" width="2.50" height="1.80" fill="#e0a0c0"/>
<rect x="91.56" y="210.80" width="2.31" height="1.80" fill="#9060d0"/>
<rect x="93.86" y="210.80" width="1.05" height="1.80" fill="#a070e0"/>
<rect x="94.91" y="210.80" width="2.23" height="1.80" fill="#9060d0"/>
<rect x="97.14" y="210.80" width="1.22" height="1.80" fill="#a070e0"/>
<rect x="98.36" y="210.80" width="2.77" height="1.80" fill="#c080e0"/>
<rect x="101.13" y="210.80" width="2.62" height="1.80" fill="#e0a0c0"/>
<rect x="103.75" y="210.80" width="2.37" height="1.80" fill="#9060d0"/>
<rect x="106.13" y="210.80" width="1.44" height="1.80" fill="#e0a0c0"/>
<rect x="107.57" y="210.80" width="2.22" height="1.80" fill="#c080e0"/>
<rect x="109.79" y="210.80" width="1.65" height="1.80" fill="#9060d0"/>
<rect x="111.44" y="210.80" width="2.81" height="1.80" fill="#d090c0"/>
<rect x="114.25" y="210.80" width="1.51" height="1.80" fill="#f0a080"/>
<rect x="115.76" y="210.80" width="1.96" height="1.80" fill="#9060d0"/>
<rect x="117.72" y="210.80" width="2.23" height="1.80" fill="#c080e0"/>
<rect x="119.95" y="210.80" width="1.74" height="1.80" fill="#a070e0"/>
<rect x="121.69" y="210.80" width="1.81" height="1.80" fill="#9060d0"/>
<rect x="123.50" y="210.80" width="1.56" height="1.80" fill="#c080e0"/>
<rect x="125.06" y="210.80" width="1.75" height="1.80" fill="#e0a0c0"/>
<rect x="126.81" y="210.80" width="1.53" height="1.80" fill="#9060d0"/>
<rect x="128.34" y="210.80" width="1.10" height="1.80" fill="#e0a0c0"/>
<rect x="129.44" y="210.80" width="2.93" height="1.80" fill="#d090c0"/>
<rect x="132.37" y="210.80" width="2.04" height="1.80" fill="#9060d0"/>
<rect x="134.41" y="210.80" width="2.79" height="1.80" fill="#c080e0"/>
<rect x="137.20" y="210.80" width="2.07" height="1.80" fill="#e0a0c0"/>
<rect x="139.27" y="210.80" width="2.48" height="1.80" fill="#c080e0"/>
<rect x="141.75" y="210.80" width="1.75" height="1.80" fill="#c080e0"/>
<rect x="143.50" y="210.80" width="1.29" height="1.80" fill="#c080e0"/>
<rect x="144.79" y="210.80" width="1.16" height="1.80" fill="#c080e0"/>
<rect x="145.96" y="210.80" width="2.23" height="1.80" fill="#f0a080"/>
<rect x="148.19" y="210.80" width="1.59" height="1.80" fill="#d090c0"/>
<rect x="149.78" y="210.80" width="1.62" height="1.80" fill="#f0a080"/>
<rect x="151.40" y="210.80" width="2.74" height="1.80" fill="#e0a0c0"/>
<rect x="154.14" y="210.80" width="2.79" height="1.80" fill="#9060d0"/>
<rect x="156.93" y="210.80" width="2.49" height="1.80" fill="#c080e0"/>
<rect x="159.43" y="210.80" width="1.58" height="1.80" fill="#9060d0"/>
<rect x="161.01" y="210.80" width="1.84" height="1.80" fill="#c080e0"/>
<rect x="162.84" y="210.80" width="1.10" height="1.80" fill="#d090c0"/>
<rect x="163.94" y="210.80" width="2.23" height="1.80" fill="#a070e0"/>
<rect x="166.16" y="210.80" width="1.11" height="1.80" fill="#d090c0"/>
<rect x="167.27" y="210.80" width="1.61" height="1.80" fill="#d090c0"/>
<rect x="168.88" y="210.80" width="2.07" height="1.80" fill="#c080e0"/>
<rect x="170.95" y="210.80" width="1.60" height="1.80" fill="#a070e0"/>
<rect x="172.55" y="210.80" width="1.73" height="1.80" fill="#e0a0c0"/>
<rect x="174.28" y="210.80" width="1.32" height="1.80" fill="#a070e0"/>
<rect x="175.60" y="210.80" width="2.60" height="1.80" fill="#9060d0"/>
<rect x="178.20" y="210.80" width="1.90" height="1.80" fill="#a070e0"/>
<rect x="180.11" y="210.80" width="1.29" height="1.80" fill="#9060d0"/>
<rect x="181.40" y="210.80" width="1.54" height="1.80" fill="#e0a0c0"/>
<rect x="182.93" y="210.80" width="2.93" height="1.80" fill="#a070e0"/>
<rect x="185.87" y="210.80" width="2.64" height="1.80" fill="#e0a0c0"/>
<rect x="188.51" y="210.80" width="2.19" height="1.80" fill="#9060d0"/>
<rect x="190.70" y="210.80" width="2.20" height="1.80" fill="#d090c0"/>
<rect x="192.90" y="210.80" width="1.99" height="1.80" fill="#a070e0"/>
<rect x="194.89" y="210.80" width="1.00" height="1.80" fill="#a070e0"/>
<rect x="195.89" y="210.80" width="1.05" height="1.80" fill="#a070e0"/>
<rect x="196.94" y="210.80" width="1.32" height="1.80" fill="#e0a0c0"/>
<rect x="198.26" y="210.80" width="1.21" height="1.80" fill="#9060d0"/>
<rect x="199.47" y="210.80" width="2.31" height="1.80" fill="#a070e0"/>
<rect x="201.78" y="210.80" width="1.83" height="1.80" fill="#d090c0"/>
<rect x="203.61" y="210.80" width="2.29" height="1.80" fill="#9060d0"/>
<rect x="205.89" y="210.80" width="1.83" height="1.80" fill="#9060d0"/>
<rect x="207.72" y="210.80" width="2.02" height="1.80" fill="#a070e0"/>
<rect x="209.74" y="210.80" width="2.25" height="1.80" fill="#f0a080"/>
<rect x="211.99" y="210.80" width="2.45" height="1.80" fill="#d090c0"/>
<rect x="214.44" y="210.80" width="2.08" height="1.80" fill="#c080e0"/>
<rect x="216.52" y="210.80" width="1.87" height="1.80" fill="#e0a0c0"/>
<rect x="218.39" y="210.80" width="1.16" height="1.80" fill="#9060d0"/>
<rect x="219.55" y="210.80" width="1.35" height="1.80" fill="#f0a080"/>
<rect x="220.90" y="210.80" width="1.52" height="1.80" fill="#9060d0"/>
<rect x="222.43" y="210.80" width="1.25" height="1.80" fill="#e0a0c0"/>
<rect x="223.67" y="210.80" width="2.85" height="1.80" fill="#f0a080"/>
<rect x="226.52" y="210.80" width="1.53" height="1.80" fill="#a070e0"/>
<rect x="228.05" y="210.80" width="2.27" height="1.80" fill="#9060d0"/>
<rect x="230.32" y="210.80" width="2.37" height="1.80" fill="#e0a0c0"/>
<line x1="51.3" y1="212.4" x2="231.3" y2="212.4" stroke="#201050" stroke-width="0.6"/>
<line x1="113.2" y1="6" x2="113.2" y2="211" stroke="#ffffff" stroke-width="1" stroke-dasharray="1.5 2.7" opacity="0.55"/>
<rect x="58.8" y="51.7" width="114.2" height="22.8" fill="#ffffff" fill-opacity="0.28"/>
<line x1="58.8" y1="61.7" x2="173" y2="61.7" stroke="#ffffff" stroke-width="1" opacity="0.35"/>
<rect x="125.2" y="52.2" width="24.5" height="22" fill="none" stroke="#10b0f4" stroke-width="1.7"/>
<line x1="148.5" y1="74.5" x2="170" y2="88" stroke="#12a8e8" stroke-width="0.9"/>
<circle cx="170.8" cy="88.6" r="1.2" fill="#12b0f0"/>
<line x1="180" y1="58" x2="180" y2="76" stroke="#ffffff" stroke-width="1"/>
<path d="M177.8 59 L180 55.5 L182.2 59 Z" fill="#ffffff"/>
<path d="M177.8 75 L180 78.5 L182.2 75 Z" fill="#ffffff"/>
<text x="185.3" y="70.2" font-family="Liberation Sans, sans-serif" font-size="9.2" fill="#ffffff" stroke="#ffffff" stroke-width="0.3">4</text>
<text x="185.6" y="82" font-family="Liberation Sans, sans-serif" font-size="9.6" fill="#ffffff" stroke="#ffffff" stroke-width="0.25" textLength="16.6" lengthAdjust="spacingAndGlyphs">mm</text>
<text x="179" y="96.6" font-family="Liberation Sans, sans-serif" font-weight="bold" font-size="9.2" fill="#1aa8e8" textLength="16" lengthAdjust="spacingAndGlyphs">Cell</text>
<text x="169.8" y="107.2" font-family="Liberation Sans, sans-serif" font-weight="bold" font-size="9.2" fill="#1aa8e8" textLength="33" lengthAdjust="spacingAndGlyphs">position</text>
<path d="M58.6 198.8 Q63 195.5 68.3 191.6 L67.9 204.6 M61.8 205.2 Q69 205.4 75.8 204.9" fill="none" stroke="#ffffff" stroke-width="3" stroke-linecap="round" stroke-linejoin="round"/>
<path d="M193.6 191.2 C192 195.5 192.2 202.5 193.6 205.8 C195.2 202 195.3 195 193.6 191.2 Z" fill="#d84070" stroke="#ffffff" stroke-width="1.8" stroke-linejoin="round"/>
<path d="M198.2 191.2 C200.5 188.6 206 188.4 206.2 192 C206.4 195 202.5 196.6 200.8 196.9 C205.3 197 207.6 199.6 206.7 202.8 C205.5 206.4 200.3 206.8 197.8 205.2" fill="none" stroke="#ffffff" stroke-width="2.3" stroke-linecap="round" stroke-linejoin="round"/>
<path d="M209.6 191.2 C211 187.6 218.2 187 218.8 191.4 C219.2 195 213.2 199.5 210.2 203.4 L220.8 202.9" fill="none" stroke="#ffffff" stroke-width="2.3" stroke-linecap="round" stroke-linejoin="round"/>
<rect x="238.3" y="5.2" width="15.2" height="211.8" fill="url(#cb)" stroke="#111" stroke-width="0.8"/>
<text x="254.6" y="10" font-family="Liberation Sans, sans-serif" font-weight="bold" fill="#111" stroke="#111" stroke-width="0.12" font-size="8.2" textLength="11.4" lengthAdjust="spacingAndGlyphs">1.5</text>
<text x="255.6" y="77.3" font-family="Liberation Sans, sans-serif" font-weight="bold" fill="#111" stroke="#111" stroke-width="0.12" font-size="8">1</text>
<text x="255.2" y="139.6" font-family="Liberation Sans, sans-serif" font-weight="bold" fill="#111" stroke="#111" stroke-width="0.12" font-size="8" textLength="11.8" lengthAdjust="spacingAndGlyphs">0.5</text>
<text x="254.2" y="220.2" font-family="Liberation Sans, sans-serif" font-weight="bold" fill="#111" stroke="#111" stroke-width="0.12" font-size="8">0</text>
<text transform="translate(262.8,87.8) rotate(90)" font-family="Liberation Sans, sans-serif" font-weight="bold" fill="#111" stroke="#111" stroke-width="0.12" font-size="9.2" textLength="36.2" lengthAdjust="spacingAndGlyphs">Dose [Gy]</text>
<line x1="39.2" y1="6.2" x2="39.2" y2="214" stroke="#666666" stroke-width="1.5"/>
<line x1="39" y1="6.8" x2="44" y2="6.8" stroke="#666666" stroke-width="1.3"/>
<text x="34.1" y="9.7" font-family="Liberation Sans, sans-serif" font-weight="bold" fill="#222" font-size="7.3" text-anchor="end">35</text>
<line x1="39" y1="36.1" x2="44" y2="36.1" stroke="#666666" stroke-width="1.3"/>
<text x="34.1" y="39.0" font-family="Liberation Sans, sans-serif" font-weight="bold" fill="#222" font-size="7.3" text-anchor="end">30</text>
<line x1="39" y1="67.2" x2="44" y2="67.2" stroke="#666666" stroke-width="1.3"/>
<text x="34.1" y="70.1" font-family="Liberation Sans, sans-serif" font-weight="bold" fill="#222" font-size="7.3" text-anchor="end">25</text>
<line x1="39" y1="95.9" x2="44" y2="95.9" stroke="#666666" stroke-width="1.3"/>
<text x="34.1" y="98.8" font-family="Liberation Sans, sans-serif" font-weight="bold" fill="#222" font-size="7.3" text-anchor="end">20</text>
<line x1="39" y1="127.6" x2="44" y2="127.6" stroke="#666666" stroke-width="1.3"/>
<text x="34.1" y="130.5" font-family="Liberation Sans, sans-serif" font-weight="bold" fill="#222" font-size="7.3" text-anchor="end">15</text>
<line x1="39" y1="157.9" x2="44" y2="157.9" stroke="#666666" stroke-width="1.3"/>
<text x="34.1" y="160.8" font-family="Liberation Sans, sans-serif" font-weight="bold" fill="#222" font-size="7.3" text-anchor="end">10</text>
<line x1="39" y1="187.2" x2="44" y2="187.2" stroke="#666666" stroke-width="1.3"/>
<text x="34.1" y="190.1" font-family="Liberation Sans, sans-serif" font-weight="bold" fill="#222" font-size="7.3" text-anchor="end">5</text>
<line x1="39" y1="213.4" x2="44" y2="213.4" stroke="#666666" stroke-width="1.3"/>
<text x="34.1" y="217.6" font-family="Liberation Sans, sans-serif" font-weight="bold" fill="#222" font-size="7.3" text-anchor="end">0</text>
<line x1="49.6" y1="221.7" x2="232.2" y2="221.7" stroke="#666666" stroke-width="1.3"/>
<line x1="50.3" y1="218.5" x2="50.3" y2="222" stroke="#666666" stroke-width="1.2"/>
<text x="51.5" y="230.7" font-family="Liberation Sans, sans-serif" font-weight="bold" fill="#222" font-size="7.3" text-anchor="middle">-10</text>
<line x1="83.2" y1="218.5" x2="83.2" y2="222" stroke="#666666" stroke-width="1.2"/>
<text x="84.4" y="230.7" font-family="Liberation Sans, sans-serif" font-weight="bold" fill="#222" font-size="7.3" text-anchor="middle">-5</text>
<line x1="113.1" y1="218.5" x2="113.1" y2="222" stroke="#666666" stroke-width="1.2"/>
<text x="113.5" y="230.7" font-family="Liberation Sans, sans-serif" font-weight="bold" fill="#222" font-size="7.3" text-anchor="middle">0</text>
<line x1="143.3" y1="218.5" x2="143.3" y2="222" stroke="#666666" stroke-width="1.2"/>
<text x="143.70000000000002" y="230.7" font-family="Liberation Sans, sans-serif" font-weight="bold" fill="#222" font-size="7.3" text-anchor="middle">5</text>
<line x1="173.9" y1="218.5" x2="173.9" y2="222" stroke="#666666" stroke-width="1.2"/>
<text x="174.3" y="230.7" font-family="Liberation Sans, sans-serif" font-weight="bold" fill="#222" font-size="7.3" text-anchor="middle">10</text>
<line x1="202.8" y1="218.5" x2="202.8" y2="222" stroke="#666666" stroke-width="1.2"/>
<text x="203.20000000000002" y="230.7" font-family="Liberation Sans, sans-serif" font-weight="bold" fill="#222" font-size="7.3" text-anchor="middle">15</text>
<line x1="231.5" y1="218.5" x2="231.5" y2="222" stroke="#666666" stroke-width="1.2"/>
<text x="231.9" y="229.5" font-family="Liberation Sans, sans-serif" font-weight="bold" fill="#222" font-size="7.3" text-anchor="middle">20</text>
<text x="99" y="241" font-family="Liberation Sans, sans-serif" font-weight="bold" fill="#111" stroke="#111" stroke-width="0.12" font-size="9.2" textLength="29" lengthAdjust="spacingAndGlyphs">x [mm]</text>
<text transform="translate(19.9,161.8) rotate(-90)" font-family="Liberation Sans, sans-serif" font-weight="bold" fill="#111" stroke="#111" stroke-width="0.12" font-size="10" textLength="101" lengthAdjust="spacingAndGlyphs">Vertical deflection y [mm]</text>
<text x="5.9" y="12.4" font-family="Liberation Sans, sans-serif" font-weight="bold" fill="#111" stroke="#111" stroke-width="0.12" font-size="14.2">A</text>
<rect x="324.2" y="8.2" width="270.09999999999997" height="209.60000000000002" fill="none" stroke="#9a9a9a" stroke-width="1"/>
<line x1="328.88" y1="217.8" x2="328.88" y2="215.60000000000002" stroke="#9a9a9a" stroke-width="0.8"/>
<line x1="328.88" y1="8.2" x2="328.88" y2="10.399999999999999" stroke="#9a9a9a" stroke-width="0.8"/>
<line x1="336.45" y1="217.8" x2="336.45" y2="215.60000000000002" stroke="#9a9a9a" stroke-width="0.8"/>
<line x1="336.45" y1="8.2" x2="336.45" y2="10.399999999999999" stroke="#9a9a9a" stroke-width="0.8"/>
<line x1="344.02" y1="217.8" x2="344.02" y2="215.60000000000002" stroke="#9a9a9a" stroke-width="0.8"/>
<line x1="344.02" y1="8.2" x2="344.02" y2="10.399999999999999" stroke="#9a9a9a" stroke-width="0.8"/>
<line x1="351.60" y1="217.8" x2="351.60" y2="214.60000000000002" stroke="#9a9a9a" stroke-width="0.8"/>
<line x1="351.60" y1="8.2" x2="351.60" y2="11.399999999999999" stroke="#9a9a9a" stroke-width="0.8"/>
<line x1="359.18" y1="217.8" x2="359.18" y2="215.60000000000002" stroke="#9a9a9a" stroke-width="0.8"/>
<line x1="359.18" y1="8.2" x2="359.18" y2="10.399999999999999" stroke="#9a9a9a" stroke-width="0.8"/>
<line x1="366.75" y1="217.8" x2="366.75" y2="215.60000000000002" stroke="#9a9a9a" stroke-width="0.8"/>
<line x1="366.75" y1="8.2" x2="366.75" y2="10.399999999999999" stroke="#9a9a9a" stroke-width="0.8"/>
<line x1="374.32" y1="217.8" x2="374.32" y2="215.60000000000002" stroke="#9a9a9a" stroke-width="0.8"/>
<line x1="374.32" y1="8.2" x2="374.32" y2="10.399999999999999" stroke="#9a9a9a" stroke-width="0.8"/>
<line x1="381.90" y1="217.8" x2="381.90" y2="214.60000000000002" stroke="#9a9a9a" stroke-width="0.8"/>
<line x1="381.90" y1="8.2" x2="381.90" y2="11.399999999999999" stroke="#9a9a9a" stroke-width="0.8"/>
<line x1="389.48" y1="217.8" x2="389.48" y2="215.60000000000002" stroke="#9a9a9a" stroke-width="0.8"/>
<line x1="389.48" y1="8.2" x2="389.48" y2="10.399999999999999" stroke="#9a9a9a" stroke-width="0.8"/>
<line x1="397.05" y1="217.8" x2="397.05" y2="215.60000000000002" stroke="#9a9a9a" stroke-width="0.8"/>
<line x1="397.05" y1="8.2" x2="397.05" y2="10.399999999999999" stroke="#9a9a9a" stroke-width="0.8"/>
<line x1="404.62" y1="217.8" x2="404.62" y2="215.60000000000002" stroke="#9a9a9a" stroke-width="0.8"/>
<line x1="404.62" y1="8.2" x2="404.62" y2="10.399999999999999" stroke="#9a9a9a" stroke-width="0.8"/>
<line x1="412.20" y1="217.8" x2="412.20" y2="214.60000000000002" stroke="#9a9a9a" stroke-width="0.8"/>
<line x1="412.20" y1="8.2" x2="412.20" y2="11.399999999999999" stroke="#9a9a9a" stroke-width="0.8"/>
<line x1="419.77" y1="217.8" x2="419.77" y2="215.60000000000002" stroke="#9a9a9a" stroke-width="0.8"/>
<line x1="419.77" y1="8.2" x2="419.77" y2="10.399999999999999" stroke="#9a9a9a" stroke-width="0.8"/>
<line x1="427.35" y1="217.8" x2="427.35" y2="215.60000000000002" stroke="#9a9a9a" stroke-width="0.8"/>
<line x1="427.35" y1="8.2" x2="427.35" y2="10.399999999999999" stroke="#9a9a9a" stroke-width="0.8"/>
<line x1="434.93" y1="217.8" x2="434.93" y2="215.60000000000002" stroke="#9a9a9a" stroke-width="0.8"/>
<line x1="434.93" y1="8.2" x2="434.93" y2="10.399999999999999" stroke="#9a9a9a" stroke-width="0.8"/>
<line x1="442.50" y1="217.8" x2="442.50" y2="214.60000000000002" stroke="#9a9a9a" stroke-width="0.8"/>
<line x1="442.50" y1="8.2" x2="442.50" y2="11.399999999999999" stroke="#9a9a9a" stroke-width="0.8"/>
<line x1="450.07" y1="217.8" x2="450.07" y2="215.60000000000002" stroke="#9a9a9a" stroke-width="0.8"/>
<line x1="450.07" y1="8.2" x2="450.07" y2="10.399999999999999" stroke="#9a9a9a" stroke-width="0.8"/>
<line x1="457.65" y1="217.8" x2="457.65" y2="215.60000000000002" stroke="#9a9a9a" stroke-width="0.8"/>
<line x1="457.65" y1="8.2" x2="457.65" y2="10.399999999999999" stroke="#9a9a9a" stroke-width="0.8"/>
<line x1="465.23" y1="217.8" x2="465.23" y2="215.60000000000002" stroke="#9a9a9a" stroke-width="0.8"/>
<line x1="465.23" y1="8.2" x2="465.23" y2="10.399999999999999" stroke="#9a9a9a" stroke-width="0.8"/>
<line x1="472.80" y1="217.8" x2="472.80" y2="214.60000000000002" stroke="#9a9a9a" stroke-width="0.8"/>
<line x1="472.80" y1="8.2" x2="472.80" y2="11.399999999999999" stroke="#9a9a9a" stroke-width="0.8"/>
<line x1="480.38" y1="217.8" x2="480.38" y2="215.60000000000002" stroke="#9a9a9a" stroke-width="0.8"/>
<line x1="480.38" y1="8.2" x2="480.38" y2="10.399999999999999" stroke="#9a9a9a" stroke-width="0.8"/>
<line x1="487.95" y1="217.8" x2="487.95" y2="215.60000000000002" stroke="#9a9a9a" stroke-width="0.8"/>
<line x1="487.95" y1="8.2" x2="487.95" y2="10.399999999999999" stroke="#9a9a9a" stroke-width="0.8"/>
<line x1="495.52" y1="217.8" x2="495.52" y2="215.60000000000002" stroke="#9a9a9a" stroke-width="0.8"/>
<line x1="495.52" y1="8.2" x2="495.52" y2="10.399999999999999" stroke="#9a9a9a" stroke-width="0.8"/>
<line x1="503.10" y1="217.8" x2="503.10" y2="214.60000000000002" stroke="#9a9a9a" stroke-width="0.8"/>
<line x1="503.10" y1="8.2" x2="503.10" y2="11.399999999999999" stroke="#9a9a9a" stroke-width="0.8"/>
<line x1="510.68" y1="217.8" x2="510.68" y2="215.60000000000002" stroke="#9a9a9a" stroke-width="0.8"/>
<line x1="510.68" y1="8.2" x2="510.68" y2="10.399999999999999" stroke="#9a9a9a" stroke-width="0.8"/>
<line x1="518.25" y1="217.8" x2="518.25" y2="215.60000000000002" stroke="#9a9a9a" stroke-width="0.8"/>
<line x1="518.25" y1="8.2" x2="518.25" y2="10.399999999999999" stroke="#9a9a9a" stroke-width="0.8"/>
<line x1="525.83" y1="217.8" x2="525.83" y2="215.60000000000002" stroke="#9a9a9a" stroke-width="0.8"/>
<line x1="525.83" y1="8.2" x2="525.83" y2="10.399999999999999" stroke="#9a9a9a" stroke-width="0.8"/>
<line x1="533.40" y1="217.8" x2="533.40" y2="214.60000000000002" stroke="#9a9a9a" stroke-width="0.8"/>
<line x1="533.40" y1="8.2" x2="533.40" y2="11.399999999999999" stroke="#9a9a9a" stroke-width="0.8"/>
<line x1="540.98" y1="217.8" x2="540.98" y2="215.60000000000002" stroke="#9a9a9a" stroke-width="0.8"/>
<line x1="540.98" y1="8.2" x2="540.98" y2="10.399999999999999" stroke="#9a9a9a" stroke-width="0.8"/>
<line x1="548.55" y1="217.8" x2="548.55" y2="215.60000000000002" stroke="#9a9a9a" stroke-width="0.8"/>
<line x1="548.55" y1="8.2" x2="548.55" y2="10.399999999999999" stroke="#9a9a9a" stroke-width="0.8"/>
<line x1="556.12" y1="217.8" x2="556.12" y2="215.60000000000002" stroke="#9a9a9a" stroke-width="0.8"/>
<line x1="556.12" y1="8.2" x2="556.12" y2="10.399999999999999" stroke="#9a9a9a" stroke-width="0.8"/>
<line x1="563.70" y1="217.8" x2="563.70" y2="214.60000000000002" stroke="#9a9a9a" stroke-width="0.8"/>
<line x1="563.70" y1="8.2" x2="563.70" y2="11.399999999999999" stroke="#9a9a9a" stroke-width="0.8"/>
<line x1="571.27" y1="217.8" x2="571.27" y2="215.60000000000002" stroke="#9a9a9a" stroke-width="0.8"/>
<line x1="571.27" y1="8.2" x2="571.27" y2="10.399999999999999" stroke="#9a9a9a" stroke-width="0.8"/>
<line x1="578.85" y1="217.8" x2="578.85" y2="215.60000000000002" stroke="#9a9a9a" stroke-width="0.8"/>
<line x1="578.85" y1="8.2" x2="578.85" y2="10.399999999999999" stroke="#9a9a9a" stroke-width="0.8"/>
<line x1="586.42" y1="217.8" x2="586.42" y2="215.60000000000002" stroke="#9a9a9a" stroke-width="0.8"/>
<line x1="586.42" y1="8.2" x2="586.42" y2="10.399999999999999" stroke="#9a9a9a" stroke-width="0.8"/>
<line x1="594.00" y1="217.8" x2="594.00" y2="214.60000000000002" stroke="#9a9a9a" stroke-width="0.8"/>
<line x1="594.00" y1="8.2" x2="594.00" y2="11.399999999999999" stroke="#9a9a9a" stroke-width="0.8"/>
<line x1="324.2" y1="211.00" x2="326.4" y2="211.00" stroke="#9a9a9a" stroke-width="0.8"/>
<line x1="594.3" y1="211.00" x2="592.0999999999999" y2="211.00" stroke="#9a9a9a" stroke-width="0.8"/>
<line x1="324.2" y1="202.40" x2="326.4" y2="202.40" stroke="#9a9a9a" stroke-width="0.8"/>
<line x1="594.3" y1="202.40" x2="592.0999999999999" y2="202.40" stroke="#9a9a9a" stroke-width="0.8"/>
<line x1="324.2" y1="193.80" x2="326.4" y2="193.80" stroke="#9a9a9a" stroke-width="0.8"/>
<line x1="594.3" y1="193.80" x2="592.0999999999999" y2="193.80" stroke="#9a9a9a" stroke-width="0.8"/>
<line x1="324.2" y1="185.20" x2="327.4" y2="185.20" stroke="#9a9a9a" stroke-width="0.8"/>
<line x1="594.3" y1="185.20" x2="591.0999999999999" y2="185.20" stroke="#9a9a9a" stroke-width="0.8"/>
<line x1="324.2" y1="176.60" x2="326.4" y2="176.60" stroke="#9a9a9a" stroke-width="0.8"/>
<line x1="594.3" y1="176.60" x2="592.0999999999999" y2="176.60" stroke="#9a9a9a" stroke-width="0.8"/>
<line x1="324.2" y1="168.00" x2="326.4" y2="168.00" stroke="#9a9a9a" stroke-width="0.8"/>
<line x1="594.3" y1="168.00" x2="592.0999999999999" y2="168.00" stroke="#9a9a9a" stroke-width="0.8"/>
<line x1="324.2" y1="159.40" x2="326.4" y2="159.40" stroke="#9a9a9a" stroke-width="0.8"/>
<line x1="594.3" y1="159.40" x2="592.0999999999999" y2="159.40" stroke="#9a9a9a" stroke-width="0.8"/>
<line x1="324.2" y1="150.80" x2="327.4" y2="150.80" stroke="#9a9a9a" stroke-width="0.8"/>
<line x1="594.3" y1="150.80" x2="591.0999999999999" y2="150.80" stroke="#9a9a9a" stroke-width="0.8"/>
<line x1="324.2" y1="142.20" x2="326.4" y2="142.20" stroke="#9a9a9a" stroke-width="0.8"/>
<line x1="594.3" y1="142.20" x2="592.0999999999999" y2="142.20" stroke="#9a9a9a" stroke-width="0.8"/>
<line x1="324.2" y1="133.60" x2="326.4" y2="133.60" stroke="#9a9a9a" stroke-width="0.8"/>
<line x1="594.3" y1="133.60" x2="592.0999999999999" y2="133.60" stroke="#9a9a9a" stroke-width="0.8"/>
<line x1="324.2" y1="125.00" x2="326.4" y2="125.00" stroke="#9a9a9a" stroke-width="0.8"/>
<line x1="594.3" y1="125.00" x2="592.0999999999999" y2="125.00" stroke="#9a9a9a" stroke-width="0.8"/>
<line x1="324.2" y1="116.40" x2="327.4" y2="116.40" stroke="#9a9a9a" stroke-width="0.8"/>
<line x1="594.3" y1="116.40" x2="591.0999999999999" y2="116.40" stroke="#9a9a9a" stroke-width="0.8"/>
<line x1="324.2" y1="107.80" x2="326.4" y2="107.80" stroke="#9a9a9a" stroke-width="0.8"/>
<line x1="594.3" y1="107.80" x2="592.0999999999999" y2="107.80" stroke="#9a9a9a" stroke-width="0.8"/>
<line x1="324.2" y1="99.20" x2="326.4" y2="99.20" stroke="#9a9a9a" stroke-width="0.8"/>
<line x1="594.3" y1="99.20" x2="592.0999999999999" y2="99.20" stroke="#9a9a9a" stroke-width="0.8"/>
<line x1="324.2" y1="90.60" x2="326.4" y2="90.60" stroke="#9a9a9a" stroke-width="0.8"/>
<line x1="594.3" y1="90.60" x2="592.0999999999999" y2="90.60" stroke="#9a9a9a" stroke-width="0.8"/>
<line x1="324.2" y1="82.00" x2="327.4" y2="82.00" stroke="#9a9a9a" stroke-width="0.8"/>
<line x1="594.3" y1="82.00" x2="591.0999999999999" y2="82.00" stroke="#9a9a9a" stroke-width="0.8"/>
<line x1="324.2" y1="73.40" x2="326.4" y2="73.40" stroke="#9a9a9a" stroke-width="0.8"/>
<line x1="594.3" y1="73.40" x2="592.0999999999999" y2="73.40" stroke="#9a9a9a" stroke-width="0.8"/>
<line x1="324.2" y1="64.80" x2="326.4" y2="64.80" stroke="#9a9a9a" stroke-width="0.8"/>
<line x1="594.3" y1="64.80" x2="592.0999999999999" y2="64.80" stroke="#9a9a9a" stroke-width="0.8"/>
<line x1="324.2" y1="56.20" x2="326.4" y2="56.20" stroke="#9a9a9a" stroke-width="0.8"/>
<line x1="594.3" y1="56.20" x2="592.0999999999999" y2="56.20" stroke="#9a9a9a" stroke-width="0.8"/>
<line x1="324.2" y1="47.60" x2="327.4" y2="47.60" stroke="#9a9a9a" stroke-width="0.8"/>
<line x1="594.3" y1="47.60" x2="591.0999999999999" y2="47.60" stroke="#9a9a9a" stroke-width="0.8"/>
<line x1="324.2" y1="39.00" x2="326.4" y2="39.00" stroke="#9a9a9a" stroke-width="0.8"/>
<line x1="594.3" y1="39.00" x2="592.0999999999999" y2="39.00" stroke="#9a9a9a" stroke-width="0.8"/>
<line x1="324.2" y1="30.40" x2="326.4" y2="30.40" stroke="#9a9a9a" stroke-width="0.8"/>
<line x1="594.3" y1="30.40" x2="592.0999999999999" y2="30.40" stroke="#9a9a9a" stroke-width="0.8"/>
<line x1="324.2" y1="21.80" x2="326.4" y2="21.80" stroke="#9a9a9a" stroke-width="0.8"/>
<line x1="594.3" y1="21.80" x2="592.0999999999999" y2="21.80" stroke="#9a9a9a" stroke-width="0.8"/>
<line x1="324.2" y1="13.20" x2="327.4" y2="13.20" stroke="#9a9a9a" stroke-width="0.8"/>
<line x1="594.3" y1="13.20" x2="591.0999999999999" y2="13.20" stroke="#9a9a9a" stroke-width="0.8"/>
<text x="351.6" y="233.9" font-family="Liberation Sans, sans-serif" fill="#1a1a1a" stroke="#1a1a1a" stroke-width="0.25" font-size="12.4" text-anchor="middle">-6</text>
<text x="381.9" y="233.9" font-family="Liberation Sans, sans-serif" fill="#1a1a1a" stroke="#1a1a1a" stroke-width="0.25" font-size="12.4" text-anchor="middle">-4</text>
<text x="412.2" y="233.9" font-family="Liberation Sans, sans-serif" fill="#1a1a1a" stroke="#1a1a1a" stroke-width="0.25" font-size="12.4" text-anchor="middle">-2</text>
<text x="442.5" y="233.9" font-family="Liberation Sans, sans-serif" fill="#1a1a1a" stroke="#1a1a1a" stroke-width="0.25" font-size="12.4" text-anchor="middle">0</text>
<text x="472.8" y="233.9" font-family="Liberation Sans, sans-serif" fill="#1a1a1a" stroke="#1a1a1a" stroke-width="0.25" font-size="12.4" text-anchor="middle">2</text>
<text x="503.1" y="233.9" font-family="Liberation Sans, sans-serif" fill="#1a1a1a" stroke="#1a1a1a" stroke-width="0.25" font-size="12.4" text-anchor="middle">4</text>
<text x="533.4" y="233.9" font-family="Liberation Sans, sans-serif" fill="#1a1a1a" stroke="#1a1a1a" stroke-width="0.25" font-size="12.4" text-anchor="middle">6</text>
<text x="563.7" y="233.9" font-family="Liberation Sans, sans-serif" fill="#1a1a1a" stroke="#1a1a1a" stroke-width="0.25" font-size="12.4" text-anchor="middle">8</text>
<text x="594.0" y="233.9" font-family="Liberation Sans, sans-serif" fill="#1a1a1a" stroke="#1a1a1a" stroke-width="0.25" font-size="12.4" text-anchor="middle">10</text>
<text x="320.8" y="17.4" font-family="Liberation Sans, sans-serif" fill="#1a1a1a" stroke="#1a1a1a" stroke-width="0.25" font-size="12.8" text-anchor="end" textLength="14.6" lengthAdjust="spacingAndGlyphs">1.2</text>
<text x="320.8" y="51.8" font-family="Liberation Sans, sans-serif" fill="#1a1a1a" stroke="#1a1a1a" stroke-width="0.25" font-size="12.8" text-anchor="end">1</text>
<text x="320.8" y="86.2" font-family="Liberation Sans, sans-serif" fill="#1a1a1a" stroke="#1a1a1a" stroke-width="0.25" font-size="12.8" text-anchor="end" textLength="14.6" lengthAdjust="spacingAndGlyphs">0.8</text>
<text x="320.8" y="120.6" font-family="Liberation Sans, sans-serif" fill="#1a1a1a" stroke="#1a1a1a" stroke-width="0.25" font-size="12.8" text-anchor="end" textLength="14.6" lengthAdjust="spacingAndGlyphs">0.6</text>
<text x="320.8" y="155.0" font-family="Liberation Sans, sans-serif" fill="#1a1a1a" stroke="#1a1a1a" stroke-width="0.25" font-size="12.8" text-anchor="end" textLength="14.6" lengthAdjust="spacingAndGlyphs">0.4</text>
<text x="320.8" y="189.4" font-family="Liberation Sans, sans-serif" fill="#1a1a1a" stroke="#1a1a1a" stroke-width="0.25" font-size="12.8" text-anchor="end" textLength="14.6" lengthAdjust="spacingAndGlyphs">0.2</text>
<text x="442.5" y="250.5" font-family="Liberation Sans, sans-serif" fill="#1a1a1a" stroke="#1a1a1a" stroke-width="0.25" font-size="13.2" textLength="33.4" lengthAdjust="spacingAndGlyphs">x [mm]</text>
<text transform="translate(301.3,141.4) rotate(-90)" font-family="Liberation Sans, sans-serif" fill="#1a1a1a" stroke="#1a1a1a" stroke-width="0.25" font-size="11.8" textLength="60.6" lengthAdjust="spacingAndGlyphs">Dose [Gy]</text>
<text x="291.7" y="12.1" font-family="Liberation Sans, sans-serif" font-weight="bold" fill="#111" stroke="#111" stroke-width="0.12" font-size="13.6">B</text>
<path d="M324.00 114.90 L324.90 116.90 L325.90 116.60 L326.90 114.00 L327.85 112.10 L328.80 112.00 L329.80 109.00 L330.80 108.00 L331.75 103.29 L332.70 102.20 L334.10 98.30 L335.70 91.50 L337.20 84.60 L338.60 83.70 L339.60 79.32 L340.60 78.80 L341.55 80.78 L342.50 80.70 L343.90 78.80 L345.40 87.60 L346.40 86.84 L347.40 83.70 L348.35 81.44 L349.30 81.70 L350.30 81.62 L351.30 78.80 L352.30 78.42 L353.30 81.70 L354.20 83.70 L355.60 76.80 L357.00 74.00 L357.95 76.70 L358.90 75.50 L359.90 70.77 L360.90 69.00 L361.85 69.80 L362.80 67.10 L363.80 64.20 L364.80 59.30 L365.70 55.40 L367.10 64.20 L368.70 61.30 L369.65 64.30 L370.60 64.20 L371.60 60.27 L372.60 59.30 L373.55 59.33 L374.50 61.30 L375.50 59.37 L376.50 59.30 L378.00 68.10 L379.40 58.30 L380.40 55.64 L381.40 55.40 L382.35 54.71 L383.30 57.30 L384.30 54.50 L385.30 53.40 L386.25 51.31 L387.20 52.50 L388.20 50.12 L389.20 49.50 L390.15 49.09 L391.10 46.60 L392.10 44.24 L393.10 45.60 L394.05 44.58 L395.00 41.70 L396.40 33.90 L397.00 30.00 L398.40 38.80 L399.90 37.80 L401.10 41.00 L402.00 29.30 L403.00 42.30 L404.10 40.30 L405.50 43.00 L406.80 38.20 L407.90 34.10 L409.00 46.40 L410.20 39.60 L411.60 35.50 L413.00 32.80 L414.30 42.30 L415.70 36.90 L417.10 38.90 L418.40 35.50 L419.80 43.00 L421.20 38.20 L422.50 32.80 L423.90 40.30 L425.30 36.90 L426.60 34.10 L428.00 32.10 L429.40 38.20 L430.70 35.50 L431.75 32.06 L432.80 30.70 L434.20 35.50 L435.50 40.30 L436.90 32.80 L438.30 31.40 L439.30 28.86 L440.30 28.00 L441.70 30.70 L443.00 28.70 L444.05 26.56 L445.10 28.00 L446.40 30.00 L447.40 27.80 L447.90 11.80 L448.60 27.80 L450.20 31.40 L451.40 26.10 L452.30 26.57 L453.20 24.30 L454.05 24.28 L454.90 26.10 L455.80 24.05 L456.70 24.30 L457.60 28.26 L458.50 29.60 L459.35 27.48 L460.20 27.80 L461.10 33.10 L461.95 32.21 L462.80 29.60 L463.70 34.59 L464.60 35.80 L465.50 35.82 L466.40 32.20 L467.80 37.50 L469.00 33.10 L469.90 34.45 L470.80 39.30 L471.65 36.63 L472.50 36.60 L473.40 38.48 L474.30 42.80 L475.90 41.40 L477.30 42.30 L478.70 44.70 L480.10 46.10 L481.50 46.50 L482.90 46.50 L484.30 46.10 L485.30 44.20 L486.20 42.30 L487.10 40.90 L487.90 43.30 L488.50 41.40 L489.50 45.10 L490.40 46.10 L491.40 43.30 L492.30 45.10 L493.20 40.40 L494.20 39.00 L495.10 40.90 L496.00 41.40 L497.00 42.80 L497.90 42.30 L498.90 43.70 L499.80 43.30 L500.70 45.10 L501.70 44.20 L502.60 46.50 L503.50 48.40 L504.50 47.50 L505.40 46.10 L506.50 45.10 L507.30 42.90 L508.10 43.60 L509.10 42.60 L510.10 44.10 L511.10 47.20 L512.10 46.70 L513.10 48.70 L514.20 49.70 L515.20 49.20 L516.20 51.70 L517.20 54.30 L518.20 52.80 L519.20 53.80 L520.20 53.30 L521.30 50.20 L522.30 48.20 L523.30 47.20 L524.30 46.70 L525.30 50.20 L526.30 51.70 L527.40 51.20 L528.40 53.80 L529.40 55.30 L530.40 53.80 L531.40 54.80 L532.40 52.80 L533.40 51.70 L534.50 48.70 L534.90 47.80 L536.30 51.70 L537.80 54.60 L538.60 51.99 L539.40 52.70 L540.70 55.60 L541.70 53.16 L542.70 53.70 L544.10 58.60 L545.60 55.60 L546.60 57.10 L547.60 56.60 L548.55 56.17 L549.50 58.60 L550.50 61.26 L551.50 60.50 L552.45 58.24 L553.40 57.60 L554.20 55.56 L555.00 51.70 L556.40 58.60 L557.35 57.09 L558.30 59.50 L559.70 56.60 L561.30 63.40 L562.25 62.45 L563.20 57.60 L564.20 61.04 L565.20 61.50 L566.15 61.31 L567.10 63.40 L567.90 60.52 L568.70 61.50 L570.00 67.30 L571.40 62.50 L572.20 64.50 L573.00 69.30 L573.95 66.87 L574.90 68.30 L575.90 71.30 L576.50 67.30 L577.30 76.10 L578.40 83.00 L579.80 90.00 L580.50 100.00 L581.20 118.40 L582.90 153.60 L583.40 217.50" fill="none" stroke="#000" stroke-width="2.7" stroke-linejoin="round"/>
<path d="M475.90 41.40 L476.60 43.97 L477.30 42.30 L478.00 41.71 L478.70 44.70 L479.40 47.79 L480.10 46.10 L480.80 44.43 L481.50 46.50 L482.20 47.83 L482.90 46.50 L483.60 44.71 L484.30 46.10 L484.80 46.46 L485.30 44.20 L485.75 40.94 L486.20 42.30 L486.65 43.87 L487.10 40.90 L487.50 40.01 L487.90 43.30 L488.20 44.06 L488.50 41.40 L489.00 41.27 L489.50 45.10 L489.95 47.25 L490.40 46.10 L490.90 43.14 L491.40 43.30 L491.85 45.91 L492.30 45.10 L492.75 40.90 L493.20 40.40 L493.70 41.11 L494.20 39.00 L494.65 37.57 L495.10 40.90 L495.55 43.11 L496.00 41.40 L496.50 39.77 L497.00 42.80 L497.45 43.90 L497.90 42.30 L498.40 41.09 L498.90 43.70 L499.35 45.53 L499.80 43.30 L500.25 42.27 L500.70 45.10 L501.20 45.89 L501.70 44.20 L502.15 43.45 L502.60 46.50 L503.05 49.28 L503.50 48.40 L504.00 45.71 L504.50 47.50 L504.95 48.54 L505.40 46.10 L505.95 43.74 L506.50 45.10 L506.90 45.59 L507.30 42.90 L507.70 41.50 L508.10 43.60 L508.60 45.13 L509.10 42.60 L509.60 41.84 L510.10 44.10 L510.60 47.13 L511.10 47.20 L511.60 45.35 L512.10 46.70 L512.60 49.67 L513.10 48.70 L513.65 47.16 L514.20 49.70 L514.70 51.26 L515.20 49.20 L515.70 48.93 L516.20 51.70 L516.70 55.11 L517.20 54.30 L517.70 51.36 L518.20 52.80 L518.70 55.24 L519.20 53.80 L519.70 51.48 L520.20 53.30 L520.75 54.12 L521.30 50.20 L521.80 47.13 L522.30 48.20 L522.80 49.62 L523.30 47.20 L523.80 45.33 L524.30 46.70 L524.80 49.93 L525.30 50.20 L525.80 48.60 L526.30 51.70 L526.85 52.96 L527.40 51.20 L527.90 50.15 L528.40 53.80 L528.90 56.94 L529.40 55.30 L529.90 53.15 L530.40 53.80 L530.90 56.29 L531.40 54.80 L531.90 52.37 L532.40 52.80 L532.90 53.63 L533.40 51.70 L533.95 48.82 L534.50 48.70 L534.70 49.81 L534.90 47.80" fill="none" stroke="#101820" stroke-width="3.6" stroke-linejoin="round"/>
<path d="M475.90 41.40 L476.60 43.97 L477.30 42.30 L478.00 41.71 L478.70 44.70 L479.40 47.79 L480.10 46.10 L480.80 44.43 L481.50 46.50 L482.20 47.83 L482.90 46.50 L483.60 44.71 L484.30 46.10 L484.80 46.46 L485.30 44.20 L485.75 40.94 L486.20 42.30 L486.65 43.87 L487.10 40.90 L487.50 40.01 L487.90 43.30 L488.20 44.06 L488.50 41.40 L489.00 41.27 L489.50 45.10 L489.95 47.25 L490.40 46.10 L490.90 43.14 L491.40 43.30 L491.85 45.91 L492.30 45.10 L492.75 40.90 L493.20 40.40 L493.70 41.11 L494.20 39.00 L494.65 37.57 L495.10 40.90 L495.55 43.11 L496.00 41.40 L496.50 39.77 L497.00 42.80 L497.45 43.90 L497.90 42.30 L498.40 41.09 L498.90 43.70 L499.35 45.53 L499.80 43.30 L500.25 42.27 L500.70 45.10 L501.20 45.89 L501.70 44.20 L502.15 43.45 L502.60 46.50 L503.05 49.28 L503.50 48.40 L504.00 45.71 L504.50 47.50 L504.95 48.54 L505.40 46.10 L505.95 43.74 L506.50 45.10 L506.90 45.59 L507.30 42.90 L507.70 41.50 L508.10 43.60 L508.60 45.13 L509.10 42.60 L509.60 41.84 L510.10 44.10 L510.60 47.13 L511.10 47.20 L511.60 45.35 L512.10 46.70 L512.60 49.67 L513.10 48.70 L513.65 47.16 L514.20 49.70 L514.70 51.26 L515.20 49.20 L515.70 48.93 L516.20 51.70 L516.70 55.11 L517.20 54.30 L517.70 51.36 L518.20 52.80 L518.70 55.24 L519.20 53.80 L519.70 51.48 L520.20 53.30 L520.75 54.12 L521.30 50.20 L521.80 47.13 L522.30 48.20 L522.80 49.62 L523.30 47.20 L523.80 45.33 L524.30 46.70 L524.80 49.93 L525.30 50.20 L525.80 48.60 L526.30 51.70 L526.85 52.96 L527.40 51.20 L527.90 50.15 L528.40 53.80 L528.90 56.94 L529.40 55.30 L529.90 53.15 L530.40 53.80 L530.90 56.29 L531.40 54.80 L531.90 52.37 L532.40 52.80 L532.90 53.63 L533.40 51.70 L533.95 48.82 L534.50 48.70 L534.70 49.81 L534.90 47.80" fill="none" stroke="#3ab8ec" stroke-width="2.3" stroke-linejoin="round"/>
<text x="494.1" y="74.8" font-family="Liberation Sans, sans-serif" font-weight="bold" font-size="12.3" fill="#3ab4ea" textLength="23.6" lengthAdjust="spacingAndGlyphs">Cells</text>
</svg>
</body></html>
